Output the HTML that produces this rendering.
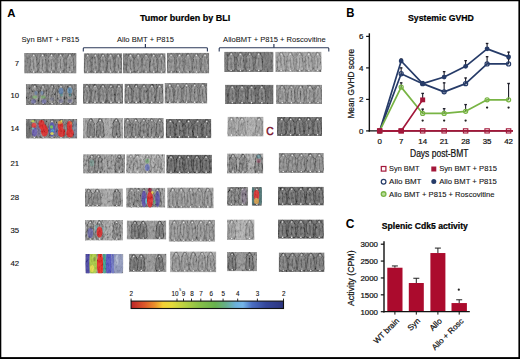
<!DOCTYPE html><html><head><meta charset="utf-8"><style>html,body{margin:0;padding:0;background:#fff;width:520px;height:359px;overflow:hidden}svg{display:block}text{font-family:"Liberation Sans",sans-serif}</style></head><body>
<svg width="520" height="359" viewBox="0 0 520 359">
<defs><path id="m" d="M0.00,0.03 L0.18,0.07 L0.26,0.17 L0.44,0.27 L0.38,0.36 L0.43,0.50 L0.45,0.66 L0.50,0.84 L0.36,0.94 L0.12,0.93 L0.00,0.97 L-0.12,0.93 L-0.36,0.94 L-0.50,0.84 L-0.45,0.66 L-0.43,0.50 L-0.38,0.36 L-0.44,0.27 L-0.26,0.17 L-0.18,0.07 L0.00,0.03Z" stroke-width="0.7" vector-effect="non-scaling-stroke" stroke-linejoin="round"/><filter id="bl" x="-10%" y="-10%" width="120%" height="120%"><feGaussianBlur stdDeviation="0.38"/></filter><filter id="bl2" x="-20%" y="-20%" width="140%" height="140%"><feGaussianBlur stdDeviation="0.7"/></filter><filter id="nz" x="0" y="0" width="100%" height="100%" filterUnits="objectBoundingBox"><feTurbulence type="fractalNoise" baseFrequency="0.55 0.3" numOctaves="3" seed="4"/><feColorMatrix type="matrix" values="1.6 0 0 0 -0.3  1.6 0 0 0 -0.3  1.6 0 0 0 -0.3  0 0 0 0 1"/></filter></defs>
<rect x="0" y="0" width="520" height="359" fill="#fff"/>
<clipPath id="c1"><rect x="24.2" y="52.9" width="52.30" height="20.50"/></clipPath>
<g clip-path="url(#c1)">
<rect x="24.2" y="52.9" width="52.30" height="20.50" fill="rgb(116,116,116)"/>
<g filter="url(#bl)">
<use href="#m" transform="translate(33.70,52.90) scale(8.00,20.50)" fill="rgb(142,142,142)" stroke="rgb(75,75,75)"/><path d="M33.70,59.05V69.30" stroke="rgb(75,75,75)" stroke-opacity="0.6" stroke-width="0.9"/>
<circle cx="33.70" cy="55.50" r="0.75" fill="#f0f0f0"/><circle cx="33.70" cy="72.00" r="0.8" fill="#f4f4f4"/>
<use href="#m" transform="translate(42.60,52.90) scale(8.00,20.50)" fill="rgb(142,142,142)" stroke="rgb(75,75,75)"/><path d="M42.60,59.05V69.30" stroke="rgb(75,75,75)" stroke-opacity="0.6" stroke-width="0.9"/>
<circle cx="42.60" cy="55.50" r="0.75" fill="#f0f0f0"/><circle cx="42.60" cy="72.00" r="0.8" fill="#f4f4f4"/>
<use href="#m" transform="translate(51.50,52.90) scale(8.00,20.50)" fill="rgb(142,142,142)" stroke="rgb(75,75,75)"/><path d="M51.50,59.05V69.30" stroke="rgb(75,75,75)" stroke-opacity="0.6" stroke-width="0.9"/>
<circle cx="51.50" cy="55.50" r="0.75" fill="#f0f0f0"/><circle cx="51.50" cy="72.00" r="0.8" fill="#f4f4f4"/>
<use href="#m" transform="translate(60.50,52.90) scale(8.00,20.50)" fill="rgb(142,142,142)" stroke="rgb(75,75,75)"/><path d="M60.50,59.05V69.30" stroke="rgb(75,75,75)" stroke-opacity="0.6" stroke-width="0.9"/>
<circle cx="60.50" cy="55.50" r="0.75" fill="#f0f0f0"/><circle cx="60.50" cy="72.00" r="0.8" fill="#f4f4f4"/>
<use href="#m" transform="translate(70.00,52.90) scale(8.00,20.50)" fill="rgb(142,142,142)" stroke="rgb(75,75,75)"/><path d="M70.00,59.05V69.30" stroke="rgb(75,75,75)" stroke-opacity="0.6" stroke-width="0.9"/>
<circle cx="70.00" cy="55.50" r="0.75" fill="#f0f0f0"/><circle cx="70.00" cy="72.00" r="0.8" fill="#f4f4f4"/>
</g>
<rect x="24.2" y="52.9" width="52.30" height="20.50" filter="url(#nz)" opacity="0.26"/>
</g>
<clipPath id="c2"><rect x="83.8" y="53.2" width="38.30" height="20.20"/></clipPath>
<g clip-path="url(#c2)">
<rect x="83.8" y="53.2" width="38.30" height="20.20" fill="rgb(110,110,110)"/>
<g filter="url(#bl)">
<use href="#m" transform="translate(87.63,53.20) scale(7.28,20.20)" fill="rgb(134,134,134)" stroke="rgb(65,65,65)"/><path d="M87.63,59.26V69.36" stroke="rgb(65,65,65)" stroke-opacity="0.6" stroke-width="0.9"/>
<circle cx="87.63" cy="55.80" r="0.75" fill="#f0f0f0"/><circle cx="87.63" cy="72.00" r="0.8" fill="#f4f4f4"/>
<use href="#m" transform="translate(95.29,53.20) scale(7.28,20.20)" fill="rgb(134,134,134)" stroke="rgb(65,65,65)"/><path d="M95.29,59.26V69.36" stroke="rgb(65,65,65)" stroke-opacity="0.6" stroke-width="0.9"/>
<circle cx="95.29" cy="55.80" r="0.75" fill="#f0f0f0"/><circle cx="95.29" cy="72.00" r="0.8" fill="#f4f4f4"/>
<use href="#m" transform="translate(102.95,53.20) scale(7.28,20.20)" fill="rgb(134,134,134)" stroke="rgb(65,65,65)"/><path d="M102.95,59.26V69.36" stroke="rgb(65,65,65)" stroke-opacity="0.6" stroke-width="0.9"/>
<circle cx="102.95" cy="55.80" r="0.75" fill="#f0f0f0"/><circle cx="102.95" cy="72.00" r="0.8" fill="#f4f4f4"/>
<use href="#m" transform="translate(110.61,53.20) scale(7.28,20.20)" fill="rgb(134,134,134)" stroke="rgb(65,65,65)"/><path d="M110.61,59.26V69.36" stroke="rgb(65,65,65)" stroke-opacity="0.6" stroke-width="0.9"/>
<circle cx="110.61" cy="55.80" r="0.75" fill="#f0f0f0"/><circle cx="110.61" cy="72.00" r="0.8" fill="#f4f4f4"/>
<use href="#m" transform="translate(118.27,53.20) scale(7.28,20.20)" fill="rgb(134,134,134)" stroke="rgb(65,65,65)"/><path d="M118.27,59.26V69.36" stroke="rgb(65,65,65)" stroke-opacity="0.6" stroke-width="0.9"/>
<circle cx="118.27" cy="55.80" r="0.75" fill="#f0f0f0"/><circle cx="118.27" cy="72.00" r="0.8" fill="#f4f4f4"/>
</g>
<rect x="83.8" y="53.2" width="38.30" height="20.20" filter="url(#nz)" opacity="0.26"/>
</g>
<clipPath id="c3"><rect x="122.8" y="53.2" width="42.80" height="20.20"/></clipPath>
<g clip-path="url(#c3)">
<rect x="122.8" y="53.2" width="42.80" height="20.20" fill="rgb(110,110,110)"/>
<g filter="url(#bl)">
<use href="#m" transform="translate(130.40,53.20) scale(8.00,20.20)" fill="rgb(134,134,134)" stroke="rgb(65,65,65)"/><path d="M130.40,59.26V69.36" stroke="rgb(65,65,65)" stroke-opacity="0.6" stroke-width="0.9"/>
<circle cx="130.40" cy="55.80" r="0.75" fill="#f0f0f0"/><circle cx="130.40" cy="72.00" r="0.8" fill="#f4f4f4"/>
<use href="#m" transform="translate(138.20,53.20) scale(8.00,20.20)" fill="rgb(134,134,134)" stroke="rgb(65,65,65)"/><path d="M138.20,59.26V69.36" stroke="rgb(65,65,65)" stroke-opacity="0.6" stroke-width="0.9"/>
<circle cx="138.20" cy="55.80" r="0.75" fill="#f0f0f0"/><circle cx="138.20" cy="72.00" r="0.8" fill="#f4f4f4"/>
<use href="#m" transform="translate(146.00,53.20) scale(8.00,20.20)" fill="rgb(134,134,134)" stroke="rgb(65,65,65)"/><path d="M146.00,59.26V69.36" stroke="rgb(65,65,65)" stroke-opacity="0.6" stroke-width="0.9"/>
<circle cx="146.00" cy="55.80" r="0.75" fill="#f0f0f0"/><circle cx="146.00" cy="72.00" r="0.8" fill="#f4f4f4"/>
<use href="#m" transform="translate(153.70,53.20) scale(8.00,20.20)" fill="rgb(134,134,134)" stroke="rgb(65,65,65)"/><path d="M153.70,59.26V69.36" stroke="rgb(65,65,65)" stroke-opacity="0.6" stroke-width="0.9"/>
<circle cx="153.70" cy="55.80" r="0.75" fill="#f0f0f0"/><circle cx="153.70" cy="72.00" r="0.8" fill="#f4f4f4"/>
<use href="#m" transform="translate(161.50,53.20) scale(8.00,20.20)" fill="rgb(134,134,134)" stroke="rgb(65,65,65)"/><path d="M161.50,59.26V69.36" stroke="rgb(65,65,65)" stroke-opacity="0.6" stroke-width="0.9"/>
<circle cx="161.50" cy="55.80" r="0.75" fill="#f0f0f0"/><circle cx="161.50" cy="72.00" r="0.8" fill="#f4f4f4"/>
</g>
<rect x="122.8" y="53.2" width="42.80" height="20.20" filter="url(#nz)" opacity="0.26"/>
</g>
<clipPath id="c4"><rect x="166.9" y="52.8" width="42.30" height="20.60"/></clipPath>
<g clip-path="url(#c4)">
<rect x="166.9" y="52.8" width="42.30" height="20.60" fill="rgb(116,116,116)"/>
<g filter="url(#bl)">
<use href="#m" transform="translate(171.13,52.80) scale(8.04,20.60)" fill="rgb(136,136,136)" stroke="rgb(70,70,70)"/><path d="M171.13,58.98V69.28" stroke="rgb(70,70,70)" stroke-opacity="0.6" stroke-width="0.9"/>
<circle cx="171.13" cy="55.40" r="0.75" fill="#f0f0f0"/><circle cx="171.13" cy="72.00" r="0.8" fill="#f4f4f4"/>
<use href="#m" transform="translate(179.59,52.80) scale(8.04,20.60)" fill="rgb(136,136,136)" stroke="rgb(70,70,70)"/><path d="M179.59,58.98V69.28" stroke="rgb(70,70,70)" stroke-opacity="0.6" stroke-width="0.9"/>
<circle cx="179.59" cy="55.40" r="0.75" fill="#f0f0f0"/><circle cx="179.59" cy="72.00" r="0.8" fill="#f4f4f4"/>
<use href="#m" transform="translate(188.05,52.80) scale(8.04,20.60)" fill="rgb(136,136,136)" stroke="rgb(70,70,70)"/><path d="M188.05,58.98V69.28" stroke="rgb(70,70,70)" stroke-opacity="0.6" stroke-width="0.9"/>
<circle cx="188.05" cy="55.40" r="0.75" fill="#f0f0f0"/><circle cx="188.05" cy="72.00" r="0.8" fill="#f4f4f4"/>
<use href="#m" transform="translate(196.51,52.80) scale(8.04,20.60)" fill="rgb(136,136,136)" stroke="rgb(70,70,70)"/><path d="M196.51,58.98V69.28" stroke="rgb(70,70,70)" stroke-opacity="0.6" stroke-width="0.9"/>
<circle cx="196.51" cy="55.40" r="0.75" fill="#f0f0f0"/><circle cx="196.51" cy="72.00" r="0.8" fill="#f4f4f4"/>
<use href="#m" transform="translate(204.97,52.80) scale(8.04,20.60)" fill="rgb(136,136,136)" stroke="rgb(70,70,70)"/><path d="M204.97,58.98V69.28" stroke="rgb(70,70,70)" stroke-opacity="0.6" stroke-width="0.9"/>
<circle cx="204.97" cy="55.40" r="0.75" fill="#f0f0f0"/><circle cx="204.97" cy="72.00" r="0.8" fill="#f4f4f4"/>
</g>
<rect x="166.9" y="52.8" width="42.30" height="20.60" filter="url(#nz)" opacity="0.26"/>
</g>
<clipPath id="c5"><rect x="224.2" y="51.7" width="49.30" height="20.30"/></clipPath>
<g clip-path="url(#c5)">
<rect x="224.2" y="51.7" width="49.30" height="20.30" fill="rgb(100,100,100)"/>
<g filter="url(#bl)">
<use href="#m" transform="translate(231.20,51.70) scale(8.00,20.30)" fill="rgb(129,129,129)" stroke="rgb(50,50,50)"/><path d="M231.20,57.79V67.94" stroke="rgb(50,50,50)" stroke-opacity="0.6" stroke-width="0.9"/>
<circle cx="231.20" cy="54.30" r="0.75" fill="#f0f0f0"/><circle cx="231.20" cy="70.60" r="0.8" fill="#f4f4f4"/>
<use href="#m" transform="translate(240.40,51.70) scale(8.00,20.30)" fill="rgb(129,129,129)" stroke="rgb(50,50,50)"/><path d="M240.40,57.79V67.94" stroke="rgb(50,50,50)" stroke-opacity="0.6" stroke-width="0.9"/>
<circle cx="240.40" cy="54.30" r="0.75" fill="#f0f0f0"/><circle cx="240.40" cy="70.60" r="0.8" fill="#f4f4f4"/>
<use href="#m" transform="translate(249.60,51.70) scale(8.00,20.30)" fill="rgb(129,129,129)" stroke="rgb(50,50,50)"/><path d="M249.60,57.79V67.94" stroke="rgb(50,50,50)" stroke-opacity="0.6" stroke-width="0.9"/>
<circle cx="249.60" cy="54.30" r="0.75" fill="#f0f0f0"/><circle cx="249.60" cy="70.60" r="0.8" fill="#f4f4f4"/>
<use href="#m" transform="translate(258.80,51.70) scale(8.00,20.30)" fill="rgb(129,129,129)" stroke="rgb(50,50,50)"/><path d="M258.80,57.79V67.94" stroke="rgb(50,50,50)" stroke-opacity="0.6" stroke-width="0.9"/>
<circle cx="258.80" cy="54.30" r="0.75" fill="#f0f0f0"/><circle cx="258.80" cy="70.60" r="0.8" fill="#f4f4f4"/>
</g>
<rect x="224.2" y="51.7" width="49.30" height="20.30" filter="url(#nz)" opacity="0.26"/>
</g>
<clipPath id="c6"><rect x="275.3" y="51.7" width="46.20" height="20.30"/></clipPath>
<g clip-path="url(#c6)">
<rect x="275.3" y="51.7" width="46.20" height="20.30" fill="rgb(150,150,150)"/>
<g filter="url(#bl)">
<use href="#m" transform="translate(281.20,51.70) scale(8.00,20.30)" fill="rgb(159,159,159)" stroke="rgb(90,90,90)"/><path d="M281.20,57.79V67.94" stroke="rgb(90,90,90)" stroke-opacity="0.6" stroke-width="0.9"/>
<circle cx="281.20" cy="54.30" r="0.75" fill="#f0f0f0"/><circle cx="281.20" cy="70.60" r="0.8" fill="#f4f4f4"/>
<use href="#m" transform="translate(290.40,51.70) scale(8.00,20.30)" fill="rgb(159,159,159)" stroke="rgb(90,90,90)"/><path d="M290.40,57.79V67.94" stroke="rgb(90,90,90)" stroke-opacity="0.6" stroke-width="0.9"/>
<circle cx="290.40" cy="54.30" r="0.75" fill="#f0f0f0"/><circle cx="290.40" cy="70.60" r="0.8" fill="#f4f4f4"/>
<use href="#m" transform="translate(299.60,51.70) scale(8.00,20.30)" fill="rgb(159,159,159)" stroke="rgb(90,90,90)"/><path d="M299.60,57.79V67.94" stroke="rgb(90,90,90)" stroke-opacity="0.6" stroke-width="0.9"/>
<circle cx="299.60" cy="54.30" r="0.75" fill="#f0f0f0"/><circle cx="299.60" cy="70.60" r="0.8" fill="#f4f4f4"/>
<use href="#m" transform="translate(308.80,51.70) scale(8.00,20.30)" fill="rgb(159,159,159)" stroke="rgb(90,90,90)"/><path d="M308.80,57.79V67.94" stroke="rgb(90,90,90)" stroke-opacity="0.6" stroke-width="0.9"/>
<circle cx="308.80" cy="54.30" r="0.75" fill="#f0f0f0"/><circle cx="308.80" cy="70.60" r="0.8" fill="#f4f4f4"/>
<use href="#m" transform="translate(317.60,51.70) scale(8.00,20.30)" fill="rgb(159,159,159)" stroke="rgb(90,90,90)"/><path d="M317.60,57.79V67.94" stroke="rgb(90,90,90)" stroke-opacity="0.6" stroke-width="0.9"/>
<circle cx="317.60" cy="54.30" r="0.75" fill="#f0f0f0"/><circle cx="317.60" cy="70.60" r="0.8" fill="#f4f4f4"/>
</g>
<rect x="275.3" y="51.7" width="46.20" height="20.30" filter="url(#nz)" opacity="0.26"/>
</g>
<clipPath id="c7"><rect x="25.9" y="84.1" width="50.90" height="20.90"/></clipPath>
<g clip-path="url(#c7)">
<rect x="25.9" y="84.1" width="50.90" height="20.90" fill="rgb(95,95,95)"/>
<g filter="url(#bl)">
<use href="#m" transform="translate(34.80,84.10) scale(8.00,20.90)" fill="rgb(114,114,114)" stroke="rgb(50,50,50)"/><path d="M34.80,90.37V100.82" stroke="rgb(50,50,50)" stroke-opacity="0.6" stroke-width="0.9"/>
<circle cx="34.80" cy="86.70" r="0.75" fill="#f0f0f0"/><circle cx="34.80" cy="103.60" r="0.8" fill="#f4f4f4"/>
<use href="#m" transform="translate(43.20,84.10) scale(8.00,20.90)" fill="rgb(114,114,114)" stroke="rgb(50,50,50)"/><path d="M43.20,90.37V100.82" stroke="rgb(50,50,50)" stroke-opacity="0.6" stroke-width="0.9"/>
<circle cx="43.20" cy="86.70" r="0.75" fill="#f0f0f0"/><circle cx="43.20" cy="103.60" r="0.8" fill="#f4f4f4"/>
<use href="#m" transform="translate(52.10,84.10) scale(8.00,20.90)" fill="rgb(114,114,114)" stroke="rgb(50,50,50)"/><path d="M52.10,90.37V100.82" stroke="rgb(50,50,50)" stroke-opacity="0.6" stroke-width="0.9"/>
<circle cx="52.10" cy="86.70" r="0.75" fill="#f0f0f0"/><circle cx="52.10" cy="103.60" r="0.8" fill="#f4f4f4"/>
<use href="#m" transform="translate(61.00,84.10) scale(8.00,20.90)" fill="rgb(114,114,114)" stroke="rgb(50,50,50)"/><path d="M61.00,90.37V100.82" stroke="rgb(50,50,50)" stroke-opacity="0.6" stroke-width="0.9"/>
<circle cx="61.00" cy="86.70" r="0.75" fill="#f0f0f0"/><circle cx="61.00" cy="103.60" r="0.8" fill="#f4f4f4"/>
<use href="#m" transform="translate(70.00,84.10) scale(8.00,20.90)" fill="rgb(114,114,114)" stroke="rgb(50,50,50)"/><path d="M70.00,90.37V100.82" stroke="rgb(50,50,50)" stroke-opacity="0.6" stroke-width="0.9"/>
<circle cx="70.00" cy="86.70" r="0.75" fill="#f0f0f0"/><circle cx="70.00" cy="103.60" r="0.8" fill="#f4f4f4"/>
</g>
<rect x="25.9" y="84.1" width="50.90" height="20.90" filter="url(#nz)" opacity="0.26"/>
<g filter="url(#bl2)">
<ellipse cx="34.8" cy="97" rx="2.6" ry="1.6" fill="#70b060" opacity="0.7"/>
<ellipse cx="43.2" cy="97" rx="2.6" ry="1.6" fill="#70b060" opacity="0.7"/>
<ellipse cx="33.5" cy="101.5" rx="2.5" ry="2.2" fill="#5a5ab0" opacity="0.6"/>
<ellipse cx="44" cy="101.5" rx="2.5" ry="2.2" fill="#5a5ab0" opacity="0.6"/>
<ellipse cx="36" cy="93" rx="1.6" ry="2" fill="#4a78b8" opacity="0.5"/>
<ellipse cx="42" cy="93" rx="1.6" ry="2" fill="#4a78b8" opacity="0.5"/>
<ellipse cx="61" cy="91" rx="2.4" ry="3.2" fill="#3a70b8" opacity="0.65"/>
<ellipse cx="69.8" cy="90.5" rx="2.4" ry="3.2" fill="#3a80b8" opacity="0.65"/>
<ellipse cx="61.5" cy="95" rx="1.5" ry="1.5" fill="#50a0a0" opacity="0.6"/>
<ellipse cx="70" cy="95" rx="1.5" ry="1.5" fill="#50a0a0" opacity="0.6"/>
<ellipse cx="61" cy="101" rx="2.5" ry="2" fill="#5a5a9a" opacity="0.45"/>
<ellipse cx="70" cy="101" rx="2.5" ry="2" fill="#5a5a9a" opacity="0.45"/>
<ellipse cx="52" cy="99" rx="2" ry="2" fill="#6a6aa0" opacity="0.3"/>
</g>
<rect x="25.9" y="84.1" width="50.90" height="20.90" filter="url(#nz)" opacity="0.16"/>
</g>
<clipPath id="c8"><rect x="83" y="83.8" width="40.00" height="20.00"/></clipPath>
<g clip-path="url(#c8)">
<rect x="83" y="83.8" width="40.00" height="20.00" fill="rgb(108,108,108)"/>
<g filter="url(#bl)">
<use href="#m" transform="translate(87.00,83.80) scale(7.60,20.00)" fill="rgb(129,129,129)" stroke="rgb(55,55,55)"/><path d="M87.00,89.80V99.80" stroke="rgb(55,55,55)" stroke-opacity="0.6" stroke-width="0.9"/>
<circle cx="87.00" cy="86.40" r="0.75" fill="#f0f0f0"/><circle cx="87.00" cy="102.40" r="0.8" fill="#f4f4f4"/>
<use href="#m" transform="translate(95.00,83.80) scale(7.60,20.00)" fill="rgb(129,129,129)" stroke="rgb(55,55,55)"/><path d="M95.00,89.80V99.80" stroke="rgb(55,55,55)" stroke-opacity="0.6" stroke-width="0.9"/>
<circle cx="95.00" cy="86.40" r="0.75" fill="#f0f0f0"/><circle cx="95.00" cy="102.40" r="0.8" fill="#f4f4f4"/>
<use href="#m" transform="translate(103.00,83.80) scale(7.60,20.00)" fill="rgb(129,129,129)" stroke="rgb(55,55,55)"/><path d="M103.00,89.80V99.80" stroke="rgb(55,55,55)" stroke-opacity="0.6" stroke-width="0.9"/>
<circle cx="103.00" cy="86.40" r="0.75" fill="#f0f0f0"/><circle cx="103.00" cy="102.40" r="0.8" fill="#f4f4f4"/>
<use href="#m" transform="translate(111.00,83.80) scale(7.60,20.00)" fill="rgb(129,129,129)" stroke="rgb(55,55,55)"/><path d="M111.00,89.80V99.80" stroke="rgb(55,55,55)" stroke-opacity="0.6" stroke-width="0.9"/>
<circle cx="111.00" cy="86.40" r="0.75" fill="#f0f0f0"/><circle cx="111.00" cy="102.40" r="0.8" fill="#f4f4f4"/>
<use href="#m" transform="translate(119.00,83.80) scale(7.60,20.00)" fill="rgb(129,129,129)" stroke="rgb(55,55,55)"/><path d="M119.00,89.80V99.80" stroke="rgb(55,55,55)" stroke-opacity="0.6" stroke-width="0.9"/>
<circle cx="119.00" cy="86.40" r="0.75" fill="#f0f0f0"/><circle cx="119.00" cy="102.40" r="0.8" fill="#f4f4f4"/>
</g>
<rect x="83" y="83.8" width="40.00" height="20.00" filter="url(#nz)" opacity="0.26"/>
</g>
<clipPath id="c9"><rect x="124.5" y="83.8" width="39.00" height="20.00"/></clipPath>
<g clip-path="url(#c9)">
<rect x="124.5" y="83.8" width="39.00" height="20.00" fill="rgb(108,108,108)"/>
<g filter="url(#bl)">
<use href="#m" transform="translate(128.40,83.80) scale(7.41,20.00)" fill="rgb(129,129,129)" stroke="rgb(55,55,55)"/><path d="M128.40,89.80V99.80" stroke="rgb(55,55,55)" stroke-opacity="0.6" stroke-width="0.9"/>
<circle cx="128.40" cy="86.40" r="0.75" fill="#f0f0f0"/><circle cx="128.40" cy="102.40" r="0.8" fill="#f4f4f4"/>
<use href="#m" transform="translate(136.20,83.80) scale(7.41,20.00)" fill="rgb(129,129,129)" stroke="rgb(55,55,55)"/><path d="M136.20,89.80V99.80" stroke="rgb(55,55,55)" stroke-opacity="0.6" stroke-width="0.9"/>
<circle cx="136.20" cy="86.40" r="0.75" fill="#f0f0f0"/><circle cx="136.20" cy="102.40" r="0.8" fill="#f4f4f4"/>
<use href="#m" transform="translate(144.00,83.80) scale(7.41,20.00)" fill="rgb(129,129,129)" stroke="rgb(55,55,55)"/><path d="M144.00,89.80V99.80" stroke="rgb(55,55,55)" stroke-opacity="0.6" stroke-width="0.9"/>
<circle cx="144.00" cy="86.40" r="0.75" fill="#f0f0f0"/><circle cx="144.00" cy="102.40" r="0.8" fill="#f4f4f4"/>
<use href="#m" transform="translate(151.80,83.80) scale(7.41,20.00)" fill="rgb(129,129,129)" stroke="rgb(55,55,55)"/><path d="M151.80,89.80V99.80" stroke="rgb(55,55,55)" stroke-opacity="0.6" stroke-width="0.9"/>
<circle cx="151.80" cy="86.40" r="0.75" fill="#f0f0f0"/><circle cx="151.80" cy="102.40" r="0.8" fill="#f4f4f4"/>
<use href="#m" transform="translate(159.60,83.80) scale(7.41,20.00)" fill="rgb(129,129,129)" stroke="rgb(55,55,55)"/><path d="M159.60,89.80V99.80" stroke="rgb(55,55,55)" stroke-opacity="0.6" stroke-width="0.9"/>
<circle cx="159.60" cy="86.40" r="0.75" fill="#f0f0f0"/><circle cx="159.60" cy="102.40" r="0.8" fill="#f4f4f4"/>
</g>
<rect x="124.5" y="83.8" width="39.00" height="20.00" filter="url(#nz)" opacity="0.26"/>
</g>
<clipPath id="c10"><rect x="164.6" y="82.9" width="42.70" height="20.70"/></clipPath>
<g clip-path="url(#c10)">
<rect x="164.6" y="82.9" width="42.70" height="20.70" fill="rgb(118,118,118)"/>
<g filter="url(#bl)">
<use href="#m" transform="translate(169.80,82.90) scale(8.00,20.70)" fill="rgb(134,134,134)" stroke="rgb(60,60,60)"/><path d="M169.80,89.11V99.46" stroke="rgb(60,60,60)" stroke-opacity="0.6" stroke-width="0.9"/>
<circle cx="169.80" cy="85.50" r="0.75" fill="#f0f0f0"/><circle cx="169.80" cy="102.20" r="0.8" fill="#f4f4f4"/>
<use href="#m" transform="translate(177.90,82.90) scale(8.00,20.70)" fill="rgb(134,134,134)" stroke="rgb(60,60,60)"/><path d="M177.90,89.11V99.46" stroke="rgb(60,60,60)" stroke-opacity="0.6" stroke-width="0.9"/>
<circle cx="177.90" cy="85.50" r="0.75" fill="#f0f0f0"/><circle cx="177.90" cy="102.20" r="0.8" fill="#f4f4f4"/>
<use href="#m" transform="translate(186.50,82.90) scale(8.00,20.70)" fill="rgb(134,134,134)" stroke="rgb(60,60,60)"/><path d="M186.50,89.11V99.46" stroke="rgb(60,60,60)" stroke-opacity="0.6" stroke-width="0.9"/>
<circle cx="186.50" cy="85.50" r="0.75" fill="#f0f0f0"/><circle cx="186.50" cy="102.20" r="0.8" fill="#f4f4f4"/>
<use href="#m" transform="translate(194.60,82.90) scale(8.00,20.70)" fill="rgb(134,134,134)" stroke="rgb(60,60,60)"/><path d="M194.60,89.11V99.46" stroke="rgb(60,60,60)" stroke-opacity="0.6" stroke-width="0.9"/>
<circle cx="194.60" cy="85.50" r="0.75" fill="#f0f0f0"/><circle cx="194.60" cy="102.20" r="0.8" fill="#f4f4f4"/>
<use href="#m" transform="translate(202.70,82.90) scale(8.00,20.70)" fill="rgb(134,134,134)" stroke="rgb(60,60,60)"/><path d="M202.70,89.11V99.46" stroke="rgb(60,60,60)" stroke-opacity="0.6" stroke-width="0.9"/>
<circle cx="202.70" cy="85.50" r="0.75" fill="#f0f0f0"/><circle cx="202.70" cy="102.20" r="0.8" fill="#f4f4f4"/>
</g>
<rect x="164.6" y="82.9" width="42.70" height="20.70" filter="url(#nz)" opacity="0.26"/>
</g>
<clipPath id="c11"><rect x="225.1" y="84.7" width="48.40" height="19.40"/></clipPath>
<g clip-path="url(#c11)">
<rect x="225.1" y="84.7" width="48.40" height="19.40" fill="rgb(85,85,85)"/>
<g filter="url(#bl)">
<use href="#m" transform="translate(232.20,84.70) scale(8.00,19.40)" fill="rgb(114,114,114)" stroke="rgb(40,40,40)"/><path d="M232.20,90.52V100.22" stroke="rgb(40,40,40)" stroke-opacity="0.6" stroke-width="0.9"/>
<circle cx="232.20" cy="87.30" r="0.75" fill="#f0f0f0"/><circle cx="232.20" cy="102.70" r="0.8" fill="#f4f4f4"/>
<use href="#m" transform="translate(242.00,84.70) scale(8.00,19.40)" fill="rgb(114,114,114)" stroke="rgb(40,40,40)"/><path d="M242.00,90.52V100.22" stroke="rgb(40,40,40)" stroke-opacity="0.6" stroke-width="0.9"/>
<circle cx="242.00" cy="87.30" r="0.75" fill="#f0f0f0"/><circle cx="242.00" cy="102.70" r="0.8" fill="#f4f4f4"/>
<use href="#m" transform="translate(251.60,84.70) scale(8.00,19.40)" fill="rgb(114,114,114)" stroke="rgb(40,40,40)"/><path d="M251.60,90.52V100.22" stroke="rgb(40,40,40)" stroke-opacity="0.6" stroke-width="0.9"/>
<circle cx="251.60" cy="87.30" r="0.75" fill="#f0f0f0"/><circle cx="251.60" cy="102.70" r="0.8" fill="#f4f4f4"/>
<use href="#m" transform="translate(261.80,84.70) scale(8.00,19.40)" fill="rgb(114,114,114)" stroke="rgb(40,40,40)"/><path d="M261.80,90.52V100.22" stroke="rgb(40,40,40)" stroke-opacity="0.6" stroke-width="0.9"/>
<circle cx="261.80" cy="87.30" r="0.75" fill="#f0f0f0"/><circle cx="261.80" cy="102.70" r="0.8" fill="#f4f4f4"/>
</g>
<rect x="225.1" y="84.7" width="48.40" height="19.40" filter="url(#nz)" opacity="0.26"/>
</g>
<clipPath id="c12"><rect x="276.1" y="84.7" width="45.90" height="19.40"/></clipPath>
<g clip-path="url(#c12)">
<rect x="276.1" y="84.7" width="45.90" height="19.40" fill="rgb(130,130,130)"/>
<g filter="url(#bl)">
<use href="#m" transform="translate(282.20,84.70) scale(8.00,19.40)" fill="rgb(144,144,144)" stroke="rgb(70,70,70)"/><path d="M282.20,90.52V100.22" stroke="rgb(70,70,70)" stroke-opacity="0.6" stroke-width="0.9"/>
<circle cx="282.20" cy="87.30" r="0.75" fill="#f0f0f0"/><circle cx="282.20" cy="102.70" r="0.8" fill="#f4f4f4"/>
<use href="#m" transform="translate(291.40,84.70) scale(8.00,19.40)" fill="rgb(144,144,144)" stroke="rgb(70,70,70)"/><path d="M291.40,90.52V100.22" stroke="rgb(70,70,70)" stroke-opacity="0.6" stroke-width="0.9"/>
<circle cx="291.40" cy="87.30" r="0.75" fill="#f0f0f0"/><circle cx="291.40" cy="102.70" r="0.8" fill="#f4f4f4"/>
<use href="#m" transform="translate(300.60,84.70) scale(8.00,19.40)" fill="rgb(144,144,144)" stroke="rgb(70,70,70)"/><path d="M300.60,90.52V100.22" stroke="rgb(70,70,70)" stroke-opacity="0.6" stroke-width="0.9"/>
<circle cx="300.60" cy="87.30" r="0.75" fill="#f0f0f0"/><circle cx="300.60" cy="102.70" r="0.8" fill="#f4f4f4"/>
<use href="#m" transform="translate(309.80,84.70) scale(8.00,19.40)" fill="rgb(144,144,144)" stroke="rgb(70,70,70)"/><path d="M309.80,90.52V100.22" stroke="rgb(70,70,70)" stroke-opacity="0.6" stroke-width="0.9"/>
<circle cx="309.80" cy="87.30" r="0.75" fill="#f0f0f0"/><circle cx="309.80" cy="102.70" r="0.8" fill="#f4f4f4"/>
<use href="#m" transform="translate(318.00,84.70) scale(8.00,19.40)" fill="rgb(144,144,144)" stroke="rgb(70,70,70)"/><path d="M318.00,90.52V100.22" stroke="rgb(70,70,70)" stroke-opacity="0.6" stroke-width="0.9"/>
<circle cx="318.00" cy="87.30" r="0.75" fill="#f0f0f0"/><circle cx="318.00" cy="102.70" r="0.8" fill="#f4f4f4"/>
</g>
<rect x="276.1" y="84.7" width="45.90" height="19.40" filter="url(#nz)" opacity="0.26"/>
</g>
<clipPath id="c13"><rect x="25.9" y="118.9" width="51.30" height="19.70"/></clipPath>
<g clip-path="url(#c13)">
<rect x="25.9" y="118.9" width="51.30" height="19.70" fill="rgb(100,100,100)"/>
<g filter="url(#bl)">
<use href="#m" transform="translate(34.50,118.90) scale(8.00,19.70)" fill="rgb(104,104,104)" stroke="rgb(50,50,50)"/><path d="M34.50,124.81V134.66" stroke="rgb(50,50,50)" stroke-opacity="0.6" stroke-width="0.9"/>
<circle cx="34.50" cy="121.50" r="0.75" fill="#f0f0f0"/><circle cx="34.50" cy="137.20" r="0.8" fill="#f4f4f4"/>
<use href="#m" transform="translate(43.00,118.90) scale(8.00,19.70)" fill="rgb(104,104,104)" stroke="rgb(50,50,50)"/><path d="M43.00,124.81V134.66" stroke="rgb(50,50,50)" stroke-opacity="0.6" stroke-width="0.9"/>
<circle cx="43.00" cy="121.50" r="0.75" fill="#f0f0f0"/><circle cx="43.00" cy="137.20" r="0.8" fill="#f4f4f4"/>
<use href="#m" transform="translate(52.00,118.90) scale(8.00,19.70)" fill="rgb(104,104,104)" stroke="rgb(50,50,50)"/><path d="M52.00,124.81V134.66" stroke="rgb(50,50,50)" stroke-opacity="0.6" stroke-width="0.9"/>
<circle cx="52.00" cy="121.50" r="0.75" fill="#f0f0f0"/><circle cx="52.00" cy="137.20" r="0.8" fill="#f4f4f4"/>
<use href="#m" transform="translate(61.00,118.90) scale(8.00,19.70)" fill="rgb(104,104,104)" stroke="rgb(50,50,50)"/><path d="M61.00,124.81V134.66" stroke="rgb(50,50,50)" stroke-opacity="0.6" stroke-width="0.9"/>
<circle cx="61.00" cy="121.50" r="0.75" fill="#f0f0f0"/><circle cx="61.00" cy="137.20" r="0.8" fill="#f4f4f4"/>
<use href="#m" transform="translate(69.50,118.90) scale(8.00,19.70)" fill="rgb(104,104,104)" stroke="rgb(50,50,50)"/><path d="M69.50,124.81V134.66" stroke="rgb(50,50,50)" stroke-opacity="0.6" stroke-width="0.9"/>
<circle cx="69.50" cy="121.50" r="0.75" fill="#f0f0f0"/><circle cx="69.50" cy="137.20" r="0.8" fill="#f4f4f4"/>
</g>
<rect x="25.9" y="118.9" width="51.30" height="19.70" filter="url(#nz)" opacity="0.26"/>
<g filter="url(#bl2)">
<ellipse cx="28.4" cy="128.7" rx="2.5" ry="10" fill="#5a5a5a" opacity="0.8"/>
<ellipse cx="38.5" cy="130" rx="2" ry="7" fill="#7060b0" opacity="0.5"/>
<ellipse cx="56.5" cy="130" rx="1.5" ry="7" fill="#6a60b0" opacity="0.5"/>
<ellipse cx="75" cy="129" rx="2" ry="9" fill="#6a7aa0" opacity="0.6"/>
<ellipse cx="34" cy="125.5" rx="2.4" ry="2.8" fill="#e02828" opacity="0.92"/>
<ellipse cx="33" cy="121.2" rx="1.6" ry="1.3" fill="#b8d040" opacity="0.92"/>
<ellipse cx="34.5" cy="132" rx="2.6" ry="4.5" fill="#6050b0" opacity="0.92"/>
<ellipse cx="33" cy="128.5" rx="1" ry="1" fill="#60c0c0" opacity="0.92"/>
<ellipse cx="41.5" cy="124" rx="3" ry="4" fill="#e01818" opacity="0.92"/>
<ellipse cx="44.5" cy="131" rx="3.6" ry="5.5" fill="#e01818" opacity="0.92"/>
<ellipse cx="43" cy="127" rx="3.6" ry="3" fill="#e01818" opacity="0.92"/>
<ellipse cx="52" cy="129.5" rx="3.2" ry="7.2" fill="#4848b0" opacity="0.92"/>
<ellipse cx="51.5" cy="127" rx="1.6" ry="1.8" fill="#70d040" opacity="0.92"/>
<ellipse cx="52.5" cy="130.5" rx="1.6" ry="1.6" fill="#40a0d0" opacity="0.92"/>
<ellipse cx="52" cy="133.5" rx="1.8" ry="1.5" fill="#e0e040" opacity="0.92"/>
<ellipse cx="60.5" cy="126" rx="2.8" ry="4" fill="#e01818" opacity="0.92"/>
<ellipse cx="61.5" cy="132.5" rx="3.6" ry="4.5" fill="#e01818" opacity="0.92"/>
<ellipse cx="60" cy="122.5" rx="2.2" ry="1.8" fill="#e09030" opacity="0.92"/>
<ellipse cx="61.5" cy="121" rx="1" ry="1" fill="#e0d040" opacity="0.92"/>
<ellipse cx="69.5" cy="126" rx="2.6" ry="5" fill="#e01818" opacity="0.92"/>
<ellipse cx="70" cy="133" rx="3.8" ry="4.5" fill="#e01818" opacity="0.92"/>
<ellipse cx="71" cy="123" rx="1.2" ry="1.5" fill="#e06030" opacity="0.92"/>
</g>
<rect x="25.9" y="118.9" width="51.30" height="19.70" filter="url(#nz)" opacity="0.16"/>
</g>
<clipPath id="c14"><rect x="83" y="118" width="40.00" height="20.50"/></clipPath>
<g clip-path="url(#c14)">
<rect x="83" y="118" width="40.00" height="20.50" fill="rgb(158,158,158)"/>
<g filter="url(#bl)">
<use href="#m" transform="translate(90.90,118.00) scale(8.00,20.50)" fill="rgb(119,119,119)" stroke="rgb(35,35,35)"/><path d="M90.90,124.15V134.40" stroke="rgb(35,35,35)" stroke-opacity="0.6" stroke-width="0.9"/>
<circle cx="90.90" cy="120.60" r="0.75" fill="#f0f0f0"/><circle cx="90.90" cy="137.10" r="0.8" fill="#f4f4f4"/>
<use href="#m" transform="translate(100.20,118.00) scale(8.00,20.50)" fill="rgb(119,119,119)" stroke="rgb(35,35,35)"/><path d="M100.20,124.15V134.40" stroke="rgb(35,35,35)" stroke-opacity="0.6" stroke-width="0.9"/>
<circle cx="100.20" cy="120.60" r="0.75" fill="#f0f0f0"/><circle cx="100.20" cy="137.10" r="0.8" fill="#f4f4f4"/>
<use href="#m" transform="translate(116.30,118.00) scale(8.00,20.50)" fill="rgb(119,119,119)" stroke="rgb(35,35,35)"/><path d="M116.30,124.15V134.40" stroke="rgb(35,35,35)" stroke-opacity="0.6" stroke-width="0.9"/>
<circle cx="116.30" cy="120.60" r="0.75" fill="#f0f0f0"/><circle cx="116.30" cy="137.10" r="0.8" fill="#f4f4f4"/>
</g>
<rect x="83" y="118" width="40.00" height="20.50" filter="url(#nz)" opacity="0.26"/>
</g>
<clipPath id="c15"><rect x="123.75" y="118" width="40.00" height="20.50"/></clipPath>
<g clip-path="url(#c15)">
<rect x="123.75" y="118" width="40.00" height="20.50" fill="rgb(140,140,140)"/>
<g filter="url(#bl)">
<use href="#m" transform="translate(127.75,118.00) scale(7.60,20.50)" fill="rgb(124,124,124)" stroke="rgb(50,50,50)"/><path d="M127.75,124.15V134.40" stroke="rgb(50,50,50)" stroke-opacity="0.6" stroke-width="0.9"/>
<circle cx="127.75" cy="120.60" r="0.75" fill="#f0f0f0"/><circle cx="127.75" cy="137.10" r="0.8" fill="#f4f4f4"/>
<use href="#m" transform="translate(135.75,118.00) scale(7.60,20.50)" fill="rgb(124,124,124)" stroke="rgb(50,50,50)"/><path d="M135.75,124.15V134.40" stroke="rgb(50,50,50)" stroke-opacity="0.6" stroke-width="0.9"/>
<circle cx="135.75" cy="120.60" r="0.75" fill="#f0f0f0"/><circle cx="135.75" cy="137.10" r="0.8" fill="#f4f4f4"/>
<use href="#m" transform="translate(143.75,118.00) scale(7.60,20.50)" fill="rgb(124,124,124)" stroke="rgb(50,50,50)"/><path d="M143.75,124.15V134.40" stroke="rgb(50,50,50)" stroke-opacity="0.6" stroke-width="0.9"/>
<circle cx="143.75" cy="120.60" r="0.75" fill="#f0f0f0"/><circle cx="143.75" cy="137.10" r="0.8" fill="#f4f4f4"/>
<use href="#m" transform="translate(151.75,118.00) scale(7.60,20.50)" fill="rgb(124,124,124)" stroke="rgb(50,50,50)"/><path d="M151.75,124.15V134.40" stroke="rgb(50,50,50)" stroke-opacity="0.6" stroke-width="0.9"/>
<circle cx="151.75" cy="120.60" r="0.75" fill="#f0f0f0"/><circle cx="151.75" cy="137.10" r="0.8" fill="#f4f4f4"/>
<use href="#m" transform="translate(159.75,118.00) scale(7.60,20.50)" fill="rgb(124,124,124)" stroke="rgb(50,50,50)"/><path d="M159.75,124.15V134.40" stroke="rgb(50,50,50)" stroke-opacity="0.6" stroke-width="0.9"/>
<circle cx="159.75" cy="120.60" r="0.75" fill="#f0f0f0"/><circle cx="159.75" cy="137.10" r="0.8" fill="#f4f4f4"/>
</g>
<rect x="123.75" y="118" width="40.00" height="20.50" filter="url(#nz)" opacity="0.26"/>
</g>
<clipPath id="c16"><rect x="165.8" y="118.9" width="45.50" height="19.40"/></clipPath>
<g clip-path="url(#c16)">
<rect x="165.8" y="118.9" width="45.50" height="19.40" fill="rgb(85,85,85)"/>
<g filter="url(#bl)">
<use href="#m" transform="translate(170.35,118.90) scale(8.64,19.40)" fill="rgb(99,99,99)" stroke="rgb(25,25,25)"/><path d="M170.35,124.72V134.42" stroke="rgb(25,25,25)" stroke-opacity="0.6" stroke-width="0.9"/>
<circle cx="170.35" cy="121.50" r="0.75" fill="#f0f0f0"/><circle cx="170.35" cy="136.90" r="0.8" fill="#f4f4f4"/>
<use href="#m" transform="translate(179.45,118.90) scale(8.64,19.40)" fill="rgb(99,99,99)" stroke="rgb(25,25,25)"/><path d="M179.45,124.72V134.42" stroke="rgb(25,25,25)" stroke-opacity="0.6" stroke-width="0.9"/>
<circle cx="179.45" cy="121.50" r="0.75" fill="#f0f0f0"/><circle cx="179.45" cy="136.90" r="0.8" fill="#f4f4f4"/>
<use href="#m" transform="translate(188.55,118.90) scale(8.64,19.40)" fill="rgb(99,99,99)" stroke="rgb(25,25,25)"/><path d="M188.55,124.72V134.42" stroke="rgb(25,25,25)" stroke-opacity="0.6" stroke-width="0.9"/>
<circle cx="188.55" cy="121.50" r="0.75" fill="#f0f0f0"/><circle cx="188.55" cy="136.90" r="0.8" fill="#f4f4f4"/>
<use href="#m" transform="translate(197.65,118.90) scale(8.64,19.40)" fill="rgb(99,99,99)" stroke="rgb(25,25,25)"/><path d="M197.65,124.72V134.42" stroke="rgb(25,25,25)" stroke-opacity="0.6" stroke-width="0.9"/>
<circle cx="197.65" cy="121.50" r="0.75" fill="#f0f0f0"/><circle cx="197.65" cy="136.90" r="0.8" fill="#f4f4f4"/>
<use href="#m" transform="translate(206.75,118.90) scale(8.64,19.40)" fill="rgb(99,99,99)" stroke="rgb(25,25,25)"/><path d="M206.75,124.72V134.42" stroke="rgb(25,25,25)" stroke-opacity="0.6" stroke-width="0.9"/>
<circle cx="206.75" cy="121.50" r="0.75" fill="#f0f0f0"/><circle cx="206.75" cy="136.90" r="0.8" fill="#f4f4f4"/>
</g>
<rect x="165.8" y="118.9" width="45.50" height="19.40" filter="url(#nz)" opacity="0.26"/>
</g>
<clipPath id="c17"><rect x="227.5" y="116.8" width="36.00" height="19.70"/></clipPath>
<g clip-path="url(#c17)">
<rect x="227.5" y="116.8" width="36.00" height="19.70" fill="rgb(168,168,168)"/>
<g filter="url(#bl)">
<use href="#m" transform="translate(231.50,116.80) scale(8.00,19.70)" fill="rgb(154,154,154)" stroke="rgb(105,105,105)"/><path d="M231.50,122.71V132.56" stroke="rgb(105,105,105)" stroke-opacity="0.6" stroke-width="0.9"/>
<circle cx="231.50" cy="119.40" r="0.75" fill="#f0f0f0"/><circle cx="231.50" cy="135.10" r="0.8" fill="#f4f4f4"/>
<use href="#m" transform="translate(242.00,116.80) scale(8.00,19.70)" fill="rgb(154,154,154)" stroke="rgb(105,105,105)"/><path d="M242.00,122.71V132.56" stroke="rgb(105,105,105)" stroke-opacity="0.6" stroke-width="0.9"/>
<circle cx="242.00" cy="119.40" r="0.75" fill="#f0f0f0"/><circle cx="242.00" cy="135.10" r="0.8" fill="#f4f4f4"/>
<use href="#m" transform="translate(259.00,116.80) scale(8.00,19.70)" fill="rgb(154,154,154)" stroke="rgb(105,105,105)"/><path d="M259.00,122.71V132.56" stroke="rgb(105,105,105)" stroke-opacity="0.6" stroke-width="0.9"/>
<circle cx="259.00" cy="119.40" r="0.75" fill="#f0f0f0"/><circle cx="259.00" cy="135.10" r="0.8" fill="#f4f4f4"/>
</g>
<rect x="227.5" y="116.8" width="36.00" height="19.70" filter="url(#nz)" opacity="0.26"/>
</g>
<clipPath id="c18"><rect x="277.1" y="117" width="45.00" height="19.10"/></clipPath>
<g clip-path="url(#c18)">
<rect x="277.1" y="117" width="45.00" height="19.10" fill="rgb(90,90,90)"/>
<g filter="url(#bl)">
<use href="#m" transform="translate(281.60,117.00) scale(8.55,19.10)" fill="rgb(104,104,104)" stroke="rgb(25,25,25)"/><path d="M281.60,122.73V132.28" stroke="rgb(25,25,25)" stroke-opacity="0.6" stroke-width="0.9"/>
<circle cx="281.60" cy="119.60" r="0.75" fill="#f0f0f0"/><circle cx="281.60" cy="134.70" r="0.8" fill="#f4f4f4"/>
<use href="#m" transform="translate(290.60,117.00) scale(8.55,19.10)" fill="rgb(104,104,104)" stroke="rgb(25,25,25)"/><path d="M290.60,122.73V132.28" stroke="rgb(25,25,25)" stroke-opacity="0.6" stroke-width="0.9"/>
<circle cx="290.60" cy="119.60" r="0.75" fill="#f0f0f0"/><circle cx="290.60" cy="134.70" r="0.8" fill="#f4f4f4"/>
<use href="#m" transform="translate(299.60,117.00) scale(8.55,19.10)" fill="rgb(104,104,104)" stroke="rgb(25,25,25)"/><path d="M299.60,122.73V132.28" stroke="rgb(25,25,25)" stroke-opacity="0.6" stroke-width="0.9"/>
<circle cx="299.60" cy="119.60" r="0.75" fill="#f0f0f0"/><circle cx="299.60" cy="134.70" r="0.8" fill="#f4f4f4"/>
<use href="#m" transform="translate(308.60,117.00) scale(8.55,19.10)" fill="rgb(104,104,104)" stroke="rgb(25,25,25)"/><path d="M308.60,122.73V132.28" stroke="rgb(25,25,25)" stroke-opacity="0.6" stroke-width="0.9"/>
<circle cx="308.60" cy="119.60" r="0.75" fill="#f0f0f0"/><circle cx="308.60" cy="134.70" r="0.8" fill="#f4f4f4"/>
<use href="#m" transform="translate(317.60,117.00) scale(8.55,19.10)" fill="rgb(104,104,104)" stroke="rgb(25,25,25)"/><path d="M317.60,122.73V132.28" stroke="rgb(25,25,25)" stroke-opacity="0.6" stroke-width="0.9"/>
<circle cx="317.60" cy="119.60" r="0.75" fill="#f0f0f0"/><circle cx="317.60" cy="134.70" r="0.8" fill="#f4f4f4"/>
</g>
<rect x="277.1" y="117" width="45.00" height="19.10" filter="url(#nz)" opacity="0.26"/>
</g>
<clipPath id="c19"><rect x="83" y="154.2" width="42.00" height="19.30"/></clipPath>
<g clip-path="url(#c19)">
<rect x="83" y="154.2" width="42.00" height="19.30" fill="rgb(135,135,135)"/>
<g filter="url(#bl)">
<use href="#m" transform="translate(91.90,154.20) scale(8.00,19.30)" fill="rgb(114,114,114)" stroke="rgb(35,35,35)"/><path d="M91.90,159.99V169.64" stroke="rgb(35,35,35)" stroke-opacity="0.6" stroke-width="0.9"/>
<circle cx="91.90" cy="156.80" r="0.75" fill="#f0f0f0"/><circle cx="91.90" cy="172.10" r="0.8" fill="#f4f4f4"/>
<use href="#m" transform="translate(98.50,154.20) scale(8.00,19.30)" fill="rgb(114,114,114)" stroke="rgb(35,35,35)"/><path d="M98.50,159.99V169.64" stroke="rgb(35,35,35)" stroke-opacity="0.6" stroke-width="0.9"/>
<circle cx="98.50" cy="156.80" r="0.75" fill="#f0f0f0"/><circle cx="98.50" cy="172.10" r="0.8" fill="#f4f4f4"/>
<use href="#m" transform="translate(119.20,154.20) scale(8.00,19.30)" fill="rgb(114,114,114)" stroke="rgb(35,35,35)"/><path d="M119.20,159.99V169.64" stroke="rgb(35,35,35)" stroke-opacity="0.6" stroke-width="0.9"/>
<circle cx="119.20" cy="156.80" r="0.75" fill="#f0f0f0"/><circle cx="119.20" cy="172.10" r="0.8" fill="#f4f4f4"/>
</g>
<rect x="83" y="154.2" width="42.00" height="19.30" filter="url(#nz)" opacity="0.26"/>
<g filter="url(#bl2)">
<ellipse cx="91.9" cy="163" rx="2.3" ry="3.5" fill="#5a9a8a" opacity="0.45"/>
</g>
<rect x="83" y="154.2" width="42.00" height="19.30" filter="url(#nz)" opacity="0.16"/>
</g>
<clipPath id="c20"><rect x="126.25" y="154.2" width="38.75" height="19.30"/></clipPath>
<g clip-path="url(#c20)">
<rect x="126.25" y="154.2" width="38.75" height="19.30" fill="rgb(165,165,165)"/>
<g filter="url(#bl)">
<use href="#m" transform="translate(130.80,154.20) scale(8.00,19.30)" fill="rgb(144,144,144)" stroke="rgb(80,80,80)"/><path d="M130.80,159.99V169.64" stroke="rgb(80,80,80)" stroke-opacity="0.6" stroke-width="0.9"/>
<circle cx="130.80" cy="156.80" r="0.75" fill="#f0f0f0"/><circle cx="130.80" cy="172.10" r="0.8" fill="#f4f4f4"/>
<use href="#m" transform="translate(137.40,154.20) scale(8.00,19.30)" fill="rgb(144,144,144)" stroke="rgb(80,80,80)"/><path d="M137.40,159.99V169.64" stroke="rgb(80,80,80)" stroke-opacity="0.6" stroke-width="0.9"/>
<circle cx="137.40" cy="156.80" r="0.75" fill="#f0f0f0"/><circle cx="137.40" cy="172.10" r="0.8" fill="#f4f4f4"/>
<use href="#m" transform="translate(147.30,154.20) scale(8.00,19.30)" fill="rgb(144,144,144)" stroke="rgb(80,80,80)"/><path d="M147.30,159.99V169.64" stroke="rgb(80,80,80)" stroke-opacity="0.6" stroke-width="0.9"/>
<circle cx="147.30" cy="156.80" r="0.75" fill="#f0f0f0"/><circle cx="147.30" cy="172.10" r="0.8" fill="#f4f4f4"/>
<use href="#m" transform="translate(158.00,154.20) scale(8.00,19.30)" fill="rgb(144,144,144)" stroke="rgb(80,80,80)"/><path d="M158.00,159.99V169.64" stroke="rgb(80,80,80)" stroke-opacity="0.6" stroke-width="0.9"/>
<circle cx="158.00" cy="156.80" r="0.75" fill="#f0f0f0"/><circle cx="158.00" cy="172.10" r="0.8" fill="#f4f4f4"/>
</g>
<rect x="126.25" y="154.2" width="38.75" height="19.30" filter="url(#nz)" opacity="0.26"/>
<g filter="url(#bl2)">
<ellipse cx="147.3" cy="161" rx="2.2" ry="2.5" fill="#70b070" opacity="0.7"/>
<ellipse cx="147.3" cy="167.5" rx="2.4" ry="3.5" fill="#5060c0" opacity="0.7"/>
</g>
<rect x="126.25" y="154.2" width="38.75" height="19.30" filter="url(#nz)" opacity="0.16"/>
</g>
<clipPath id="c21"><rect x="166.3" y="154.7" width="45.60" height="18.90"/></clipPath>
<g clip-path="url(#c21)">
<rect x="166.3" y="154.7" width="45.60" height="18.90" fill="rgb(80,80,80)"/>
<g filter="url(#bl)">
<use href="#m" transform="translate(171.00,154.70) scale(8.00,18.90)" fill="rgb(94,94,94)" stroke="rgb(20,20,20)"/><path d="M171.00,160.37V169.82" stroke="rgb(20,20,20)" stroke-opacity="0.6" stroke-width="0.9"/>
<circle cx="171.00" cy="157.30" r="0.75" fill="#f0f0f0"/><circle cx="171.00" cy="172.20" r="0.8" fill="#f4f4f4"/>
<use href="#m" transform="translate(179.60,154.70) scale(8.00,18.90)" fill="rgb(94,94,94)" stroke="rgb(20,20,20)"/><path d="M179.60,160.37V169.82" stroke="rgb(20,20,20)" stroke-opacity="0.6" stroke-width="0.9"/>
<circle cx="179.60" cy="157.30" r="0.75" fill="#f0f0f0"/><circle cx="179.60" cy="172.20" r="0.8" fill="#f4f4f4"/>
<use href="#m" transform="translate(188.30,154.70) scale(8.00,18.90)" fill="rgb(94,94,94)" stroke="rgb(20,20,20)"/><path d="M188.30,160.37V169.82" stroke="rgb(20,20,20)" stroke-opacity="0.6" stroke-width="0.9"/>
<circle cx="188.30" cy="157.30" r="0.75" fill="#f0f0f0"/><circle cx="188.30" cy="172.20" r="0.8" fill="#f4f4f4"/>
<use href="#m" transform="translate(196.90,154.70) scale(8.00,18.90)" fill="rgb(94,94,94)" stroke="rgb(20,20,20)"/><path d="M196.90,160.37V169.82" stroke="rgb(20,20,20)" stroke-opacity="0.6" stroke-width="0.9"/>
<circle cx="196.90" cy="157.30" r="0.75" fill="#f0f0f0"/><circle cx="196.90" cy="172.20" r="0.8" fill="#f4f4f4"/>
<use href="#m" transform="translate(206.10,154.70) scale(8.00,18.90)" fill="rgb(94,94,94)" stroke="rgb(20,20,20)"/><path d="M206.10,160.37V169.82" stroke="rgb(20,20,20)" stroke-opacity="0.6" stroke-width="0.9"/>
<circle cx="206.10" cy="157.30" r="0.75" fill="#f0f0f0"/><circle cx="206.10" cy="172.20" r="0.8" fill="#f4f4f4"/>
</g>
<rect x="166.3" y="154.7" width="45.60" height="18.90" filter="url(#nz)" opacity="0.26"/>
</g>
<clipPath id="c22"><rect x="227" y="153.5" width="36.25" height="20.00"/></clipPath>
<g clip-path="url(#c22)">
<rect x="227" y="153.5" width="36.25" height="20.00" fill="rgb(150,150,150)"/>
<g filter="url(#bl)">
<use href="#m" transform="translate(232.90,153.50) scale(8.00,20.00)" fill="rgb(109,109,109)" stroke="rgb(25,25,25)"/><path d="M232.90,159.50V169.50" stroke="rgb(25,25,25)" stroke-opacity="0.6" stroke-width="0.9"/>
<circle cx="232.90" cy="156.10" r="0.75" fill="#f0f0f0"/><circle cx="232.90" cy="172.10" r="0.8" fill="#f4f4f4"/>
<use href="#m" transform="translate(243.00,153.50) scale(8.00,20.00)" fill="rgb(109,109,109)" stroke="rgb(25,25,25)"/><path d="M243.00,159.50V169.50" stroke="rgb(25,25,25)" stroke-opacity="0.6" stroke-width="0.9"/>
<circle cx="243.00" cy="156.10" r="0.75" fill="#f0f0f0"/><circle cx="243.00" cy="172.10" r="0.8" fill="#f4f4f4"/>
<use href="#m" transform="translate(258.70,153.50) scale(8.00,20.00)" fill="rgb(109,109,109)" stroke="rgb(25,25,25)"/><path d="M258.70,159.50V169.50" stroke="rgb(25,25,25)" stroke-opacity="0.6" stroke-width="0.9"/>
<circle cx="258.70" cy="156.10" r="0.75" fill="#f0f0f0"/><circle cx="258.70" cy="172.10" r="0.8" fill="#f4f4f4"/>
</g>
<rect x="227" y="153.5" width="36.25" height="20.00" filter="url(#nz)" opacity="0.26"/>
<g filter="url(#bl2)">
<ellipse cx="258.7" cy="161" rx="2.2" ry="2" fill="#a04060" opacity="0.55"/>
<ellipse cx="258.7" cy="156.5" rx="2.2" ry="2" fill="#4a8a9a" opacity="0.6"/>
</g>
<rect x="227" y="153.5" width="36.25" height="20.00" filter="url(#nz)" opacity="0.16"/>
</g>
<clipPath id="c23"><rect x="278.75" y="153" width="45.00" height="20.00"/></clipPath>
<g clip-path="url(#c23)">
<rect x="278.75" y="153" width="45.00" height="20.00" fill="rgb(135,135,135)"/>
<g filter="url(#bl)">
<use href="#m" transform="translate(283.25,153.00) scale(8.55,20.00)" fill="rgb(134,134,134)" stroke="rgb(60,60,60)"/><path d="M283.25,159.00V169.00" stroke="rgb(60,60,60)" stroke-opacity="0.6" stroke-width="0.9"/>
<circle cx="283.25" cy="155.60" r="0.75" fill="#f0f0f0"/><circle cx="283.25" cy="171.60" r="0.8" fill="#f4f4f4"/>
<use href="#m" transform="translate(292.25,153.00) scale(8.55,20.00)" fill="rgb(134,134,134)" stroke="rgb(60,60,60)"/><path d="M292.25,159.00V169.00" stroke="rgb(60,60,60)" stroke-opacity="0.6" stroke-width="0.9"/>
<circle cx="292.25" cy="155.60" r="0.75" fill="#f0f0f0"/><circle cx="292.25" cy="171.60" r="0.8" fill="#f4f4f4"/>
<use href="#m" transform="translate(301.25,153.00) scale(8.55,20.00)" fill="rgb(134,134,134)" stroke="rgb(60,60,60)"/><path d="M301.25,159.00V169.00" stroke="rgb(60,60,60)" stroke-opacity="0.6" stroke-width="0.9"/>
<circle cx="301.25" cy="155.60" r="0.75" fill="#f0f0f0"/><circle cx="301.25" cy="171.60" r="0.8" fill="#f4f4f4"/>
<use href="#m" transform="translate(310.25,153.00) scale(8.55,20.00)" fill="rgb(134,134,134)" stroke="rgb(60,60,60)"/><path d="M310.25,159.00V169.00" stroke="rgb(60,60,60)" stroke-opacity="0.6" stroke-width="0.9"/>
<circle cx="310.25" cy="155.60" r="0.75" fill="#f0f0f0"/><circle cx="310.25" cy="171.60" r="0.8" fill="#f4f4f4"/>
<use href="#m" transform="translate(319.25,153.00) scale(8.55,20.00)" fill="rgb(134,134,134)" stroke="rgb(60,60,60)"/><path d="M319.25,159.00V169.00" stroke="rgb(60,60,60)" stroke-opacity="0.6" stroke-width="0.9"/>
<circle cx="319.25" cy="155.60" r="0.75" fill="#f0f0f0"/><circle cx="319.25" cy="171.60" r="0.8" fill="#f4f4f4"/>
</g>
<rect x="278.75" y="153" width="45.00" height="20.00" filter="url(#nz)" opacity="0.26"/>
</g>
<clipPath id="c24"><rect x="85" y="188.5" width="38.00" height="18.25"/></clipPath>
<g clip-path="url(#c24)">
<rect x="85" y="188.5" width="38.00" height="18.25" fill="rgb(160,160,160)"/>
<g filter="url(#bl)">
<use href="#m" transform="translate(88.60,188.50) scale(8.00,18.25)" fill="rgb(124,124,124)" stroke="rgb(50,50,50)"/><path d="M88.60,193.97V203.10" stroke="rgb(50,50,50)" stroke-opacity="0.6" stroke-width="0.9"/>
<circle cx="88.60" cy="191.10" r="0.75" fill="#f0f0f0"/><circle cx="88.60" cy="205.35" r="0.8" fill="#f4f4f4"/>
<use href="#m" transform="translate(97.20,188.50) scale(8.00,18.25)" fill="rgb(124,124,124)" stroke="rgb(50,50,50)"/><path d="M97.20,193.97V203.10" stroke="rgb(50,50,50)" stroke-opacity="0.6" stroke-width="0.9"/>
<circle cx="97.20" cy="191.10" r="0.75" fill="#f0f0f0"/><circle cx="97.20" cy="205.35" r="0.8" fill="#f4f4f4"/>
<use href="#m" transform="translate(116.70,188.50) scale(8.00,18.25)" fill="rgb(124,124,124)" stroke="rgb(50,50,50)"/><path d="M116.70,193.97V203.10" stroke="rgb(50,50,50)" stroke-opacity="0.6" stroke-width="0.9"/>
<circle cx="116.70" cy="191.10" r="0.75" fill="#f0f0f0"/><circle cx="116.70" cy="205.35" r="0.8" fill="#f4f4f4"/>
</g>
<rect x="85" y="188.5" width="38.00" height="18.25" filter="url(#nz)" opacity="0.26"/>
</g>
<clipPath id="c25"><rect x="126.25" y="187.8" width="38.95" height="19.80"/></clipPath>
<g clip-path="url(#c25)">
<rect x="126.25" y="187.8" width="38.95" height="19.80" fill="rgb(135,135,135)"/>
<g filter="url(#bl)">
<use href="#m" transform="translate(131.60,187.80) scale(8.00,19.80)" fill="rgb(119,119,119)" stroke="rgb(50,50,50)"/><path d="M131.60,193.74V203.64" stroke="rgb(50,50,50)" stroke-opacity="0.6" stroke-width="0.9"/>
<circle cx="131.60" cy="190.40" r="0.75" fill="#f0f0f0"/><circle cx="131.60" cy="206.20" r="0.8" fill="#f4f4f4"/>
<use href="#m" transform="translate(138.20,187.80) scale(8.00,19.80)" fill="rgb(119,119,119)" stroke="rgb(50,50,50)"/><path d="M138.20,193.74V203.64" stroke="rgb(50,50,50)" stroke-opacity="0.6" stroke-width="0.9"/>
<circle cx="138.20" cy="190.40" r="0.75" fill="#f0f0f0"/><circle cx="138.20" cy="206.20" r="0.8" fill="#f4f4f4"/>
<use href="#m" transform="translate(144.00,187.80) scale(8.00,19.80)" fill="rgb(119,119,119)" stroke="rgb(50,50,50)"/><path d="M144.00,193.74V203.64" stroke="rgb(50,50,50)" stroke-opacity="0.6" stroke-width="0.9"/>
<circle cx="144.00" cy="190.40" r="0.75" fill="#f0f0f0"/><circle cx="144.00" cy="206.20" r="0.8" fill="#f4f4f4"/>
<use href="#m" transform="translate(150.00,187.80) scale(8.00,19.80)" fill="rgb(119,119,119)" stroke="rgb(50,50,50)"/><path d="M150.00,193.74V203.64" stroke="rgb(50,50,50)" stroke-opacity="0.6" stroke-width="0.9"/>
<circle cx="150.00" cy="190.40" r="0.75" fill="#f0f0f0"/><circle cx="150.00" cy="206.20" r="0.8" fill="#f4f4f4"/>
<use href="#m" transform="translate(157.50,187.80) scale(8.00,19.80)" fill="rgb(119,119,119)" stroke="rgb(50,50,50)"/><path d="M157.50,193.74V203.64" stroke="rgb(50,50,50)" stroke-opacity="0.6" stroke-width="0.9"/>
<circle cx="157.50" cy="190.40" r="0.75" fill="#f0f0f0"/><circle cx="157.50" cy="206.20" r="0.8" fill="#f4f4f4"/>
</g>
<rect x="126.25" y="187.8" width="38.95" height="19.80" filter="url(#nz)" opacity="0.26"/>
<g filter="url(#bl2)">
<ellipse cx="144" cy="199" rx="2.5" ry="8.5" fill="#5040a8" opacity="0.92"/>
<ellipse cx="146.2" cy="201" rx="1" ry="3" fill="#50c0d0" opacity="0.92"/>
<ellipse cx="157.5" cy="199" rx="2.3" ry="8" fill="#4a40a0" opacity="0.92"/>
<ellipse cx="154.5" cy="202" rx="1" ry="2" fill="#60b070" opacity="0.92"/>
<ellipse cx="150" cy="199.5" rx="3" ry="8.5" fill="#e01818" opacity="0.92"/>
<ellipse cx="149.8" cy="190" rx="2" ry="2" fill="#901030" opacity="0.92"/>
<ellipse cx="152.4" cy="192.5" rx="1.2" ry="1.5" fill="#f0d040" opacity="0.92"/>
</g>
<rect x="126.25" y="187.8" width="38.95" height="19.80" filter="url(#nz)" opacity="0.16"/>
</g>
<clipPath id="c26"><rect x="167.2" y="187.5" width="46.40" height="20.80"/></clipPath>
<g clip-path="url(#c26)">
<rect x="167.2" y="187.5" width="46.40" height="20.80" fill="rgb(150,150,150)"/>
<g filter="url(#bl)">
<use href="#m" transform="translate(172.70,187.50) scale(8.00,20.80)" fill="rgb(144,144,144)" stroke="rgb(75,75,75)"/><path d="M172.70,193.74V204.14" stroke="rgb(75,75,75)" stroke-opacity="0.6" stroke-width="0.9"/>
<circle cx="172.70" cy="190.10" r="0.75" fill="#f0f0f0"/><circle cx="172.70" cy="206.90" r="0.8" fill="#f4f4f4"/>
<use href="#m" transform="translate(181.30,187.50) scale(8.00,20.80)" fill="rgb(144,144,144)" stroke="rgb(75,75,75)"/><path d="M181.30,193.74V204.14" stroke="rgb(75,75,75)" stroke-opacity="0.6" stroke-width="0.9"/>
<circle cx="181.30" cy="190.10" r="0.75" fill="#f0f0f0"/><circle cx="181.30" cy="206.90" r="0.8" fill="#f4f4f4"/>
<use href="#m" transform="translate(190.60,187.50) scale(8.00,20.80)" fill="rgb(144,144,144)" stroke="rgb(75,75,75)"/><path d="M190.60,193.74V204.14" stroke="rgb(75,75,75)" stroke-opacity="0.6" stroke-width="0.9"/>
<circle cx="190.60" cy="190.10" r="0.75" fill="#f0f0f0"/><circle cx="190.60" cy="206.90" r="0.8" fill="#f4f4f4"/>
<use href="#m" transform="translate(199.20,187.50) scale(8.00,20.80)" fill="rgb(144,144,144)" stroke="rgb(75,75,75)"/><path d="M199.20,193.74V204.14" stroke="rgb(75,75,75)" stroke-opacity="0.6" stroke-width="0.9"/>
<circle cx="199.20" cy="190.10" r="0.75" fill="#f0f0f0"/><circle cx="199.20" cy="206.90" r="0.8" fill="#f4f4f4"/>
<use href="#m" transform="translate(207.90,187.50) scale(8.00,20.80)" fill="rgb(144,144,144)" stroke="rgb(75,75,75)"/><path d="M207.90,193.74V204.14" stroke="rgb(75,75,75)" stroke-opacity="0.6" stroke-width="0.9"/>
<circle cx="207.90" cy="190.10" r="0.75" fill="#f0f0f0"/><circle cx="207.90" cy="206.90" r="0.8" fill="#f4f4f4"/>
</g>
<rect x="167.2" y="187.5" width="46.40" height="20.80" filter="url(#nz)" opacity="0.26"/>
</g>
<clipPath id="c27"><rect x="227.2" y="187" width="20.90" height="18.80"/></clipPath>
<g clip-path="url(#c27)">
<rect x="227.2" y="187" width="20.90" height="18.80" fill="rgb(105,105,105)"/>
<g filter="url(#bl)">
<use href="#m" transform="translate(231.50,187.00) scale(8.00,18.80)" fill="rgb(104,104,104)" stroke="rgb(30,30,30)"/><path d="M231.50,192.64V202.04" stroke="rgb(30,30,30)" stroke-opacity="0.6" stroke-width="0.9"/>
<circle cx="231.50" cy="189.60" r="0.75" fill="#f0f0f0"/><circle cx="231.50" cy="204.40" r="0.8" fill="#f4f4f4"/>
<use href="#m" transform="translate(242.50,187.00) scale(8.00,18.80)" fill="rgb(104,104,104)" stroke="rgb(30,30,30)"/><path d="M242.50,192.64V202.04" stroke="rgb(30,30,30)" stroke-opacity="0.6" stroke-width="0.9"/>
<circle cx="242.50" cy="189.60" r="0.75" fill="#f0f0f0"/><circle cx="242.50" cy="204.40" r="0.8" fill="#f4f4f4"/>
</g>
<rect x="227.2" y="187" width="20.90" height="18.80" filter="url(#nz)" opacity="0.26"/>
<g filter="url(#bl2)">
<ellipse cx="244" cy="196" rx="3" ry="8" fill="#8a6a9a" opacity="0.3"/>
</g>
<rect x="227.2" y="187" width="20.90" height="18.80" filter="url(#nz)" opacity="0.16"/>
</g>
<clipPath id="c28"><rect x="251.9" y="187" width="9.90" height="18.80"/></clipPath>
<g clip-path="url(#c28)">
<rect x="251.9" y="187" width="9.90" height="18.80" fill="rgb(80,80,80)"/>
<g filter="url(#bl)">
<use href="#m" transform="translate(256.80,187.00) scale(8.00,18.80)" fill="rgb(84,84,84)" stroke="rgb(30,30,30)"/><path d="M256.80,192.64V202.04" stroke="rgb(30,30,30)" stroke-opacity="0.6" stroke-width="0.9"/>
<circle cx="256.80" cy="189.60" r="0.75" fill="#f0f0f0"/><circle cx="256.80" cy="204.40" r="0.8" fill="#f4f4f4"/>
</g>
<rect x="251.9" y="187" width="9.90" height="18.80" filter="url(#nz)" opacity="0.26"/>
<g filter="url(#bl2)">
<ellipse cx="253" cy="196" rx="2" ry="9" fill="#3a6a6a" opacity="0.92"/>
<ellipse cx="260.5" cy="196" rx="2" ry="9" fill="#3a6a6a" opacity="0.92"/>
<ellipse cx="256.5" cy="195" rx="2.8" ry="5" fill="#e02020" opacity="0.92"/>
<ellipse cx="256.5" cy="201" rx="2.5" ry="3" fill="#e0a040" opacity="0.92"/>
</g>
<rect x="251.9" y="187" width="9.90" height="18.80" filter="url(#nz)" opacity="0.16"/>
</g>
<clipPath id="c29"><rect x="278" y="186.75" width="45.75" height="18.75"/></clipPath>
<g clip-path="url(#c29)">
<rect x="278" y="186.75" width="45.75" height="18.75" fill="rgb(85,85,85)"/>
<g filter="url(#bl)">
<use href="#m" transform="translate(282.57,186.75) scale(8.69,18.75)" fill="rgb(99,99,99)" stroke="rgb(20,20,20)"/><path d="M282.57,192.38V201.75" stroke="rgb(20,20,20)" stroke-opacity="0.6" stroke-width="0.9"/>
<circle cx="282.57" cy="189.35" r="0.75" fill="#f0f0f0"/><circle cx="282.57" cy="204.10" r="0.8" fill="#f4f4f4"/>
<use href="#m" transform="translate(291.73,186.75) scale(8.69,18.75)" fill="rgb(99,99,99)" stroke="rgb(20,20,20)"/><path d="M291.73,192.38V201.75" stroke="rgb(20,20,20)" stroke-opacity="0.6" stroke-width="0.9"/>
<circle cx="291.73" cy="189.35" r="0.75" fill="#f0f0f0"/><circle cx="291.73" cy="204.10" r="0.8" fill="#f4f4f4"/>
<use href="#m" transform="translate(300.88,186.75) scale(8.69,18.75)" fill="rgb(99,99,99)" stroke="rgb(20,20,20)"/><path d="M300.88,192.38V201.75" stroke="rgb(20,20,20)" stroke-opacity="0.6" stroke-width="0.9"/>
<circle cx="300.88" cy="189.35" r="0.75" fill="#f0f0f0"/><circle cx="300.88" cy="204.10" r="0.8" fill="#f4f4f4"/>
<use href="#m" transform="translate(310.02,186.75) scale(8.69,18.75)" fill="rgb(99,99,99)" stroke="rgb(20,20,20)"/><path d="M310.02,192.38V201.75" stroke="rgb(20,20,20)" stroke-opacity="0.6" stroke-width="0.9"/>
<circle cx="310.02" cy="189.35" r="0.75" fill="#f0f0f0"/><circle cx="310.02" cy="204.10" r="0.8" fill="#f4f4f4"/>
<use href="#m" transform="translate(319.18,186.75) scale(8.69,18.75)" fill="rgb(99,99,99)" stroke="rgb(20,20,20)"/><path d="M319.18,192.38V201.75" stroke="rgb(20,20,20)" stroke-opacity="0.6" stroke-width="0.9"/>
<circle cx="319.18" cy="189.35" r="0.75" fill="#f0f0f0"/><circle cx="319.18" cy="204.10" r="0.8" fill="#f4f4f4"/>
</g>
<rect x="278" y="186.75" width="45.75" height="18.75" filter="url(#nz)" opacity="0.26"/>
</g>
<clipPath id="c30"><rect x="85" y="220" width="38.00" height="20.50"/></clipPath>
<g clip-path="url(#c30)">
<rect x="85" y="220" width="38.00" height="20.50" fill="rgb(150,150,150)"/>
<g filter="url(#bl)">
<use href="#m" transform="translate(90.30,220.00) scale(8.00,20.50)" fill="rgb(114,114,114)" stroke="rgb(35,35,35)"/><path d="M90.30,226.15V236.40" stroke="rgb(35,35,35)" stroke-opacity="0.6" stroke-width="0.9"/>
<circle cx="90.30" cy="222.60" r="0.75" fill="#f0f0f0"/><circle cx="90.30" cy="239.10" r="0.8" fill="#f4f4f4"/>
<use href="#m" transform="translate(99.40,220.00) scale(8.00,20.50)" fill="rgb(114,114,114)" stroke="rgb(35,35,35)"/><path d="M99.40,226.15V236.40" stroke="rgb(35,35,35)" stroke-opacity="0.6" stroke-width="0.9"/>
<circle cx="99.40" cy="222.60" r="0.75" fill="#f0f0f0"/><circle cx="99.40" cy="239.10" r="0.8" fill="#f4f4f4"/>
<use href="#m" transform="translate(116.70,220.00) scale(8.00,20.50)" fill="rgb(114,114,114)" stroke="rgb(35,35,35)"/><path d="M116.70,226.15V236.40" stroke="rgb(35,35,35)" stroke-opacity="0.6" stroke-width="0.9"/>
<circle cx="116.70" cy="222.60" r="0.75" fill="#f0f0f0"/><circle cx="116.70" cy="239.10" r="0.8" fill="#f4f4f4"/>
</g>
<rect x="85" y="220" width="38.00" height="20.50" filter="url(#nz)" opacity="0.26"/>
<g filter="url(#bl2)">
<ellipse cx="90.3" cy="233" rx="2.8" ry="5" fill="#5a58a8" opacity="0.8"/>
<ellipse cx="96.3" cy="229" rx="1.2" ry="4" fill="#60b8b8" opacity="0.7"/>
<ellipse cx="103" cy="230" rx="1" ry="3" fill="#70c0c0" opacity="0.6"/>
<ellipse cx="99.5" cy="232" rx="3" ry="5.5" fill="#e01818" opacity="0.92"/>
</g>
<rect x="85" y="220" width="38.00" height="20.50" filter="url(#nz)" opacity="0.16"/>
</g>
<clipPath id="c31"><rect x="126.75" y="220.5" width="39.50" height="19.00"/></clipPath>
<g clip-path="url(#c31)">
<rect x="126.75" y="220.5" width="39.50" height="19.00" fill="rgb(140,140,140)"/>
<g filter="url(#bl)">
<use href="#m" transform="translate(134.90,220.50) scale(8.00,19.00)" fill="rgb(104,104,104)" stroke="rgb(25,25,25)"/><path d="M134.90,226.20V235.70" stroke="rgb(25,25,25)" stroke-opacity="0.6" stroke-width="0.9"/>
<circle cx="134.90" cy="223.10" r="0.75" fill="#f0f0f0"/><circle cx="134.90" cy="238.10" r="0.8" fill="#f4f4f4"/>
<use href="#m" transform="translate(143.20,220.50) scale(8.00,19.00)" fill="rgb(104,104,104)" stroke="rgb(25,25,25)"/><path d="M143.20,226.20V235.70" stroke="rgb(25,25,25)" stroke-opacity="0.6" stroke-width="0.9"/>
<circle cx="143.20" cy="223.10" r="0.75" fill="#f0f0f0"/><circle cx="143.20" cy="238.10" r="0.8" fill="#f4f4f4"/>
<use href="#m" transform="translate(159.70,220.50) scale(8.00,19.00)" fill="rgb(104,104,104)" stroke="rgb(25,25,25)"/><path d="M159.70,226.20V235.70" stroke="rgb(25,25,25)" stroke-opacity="0.6" stroke-width="0.9"/>
<circle cx="159.70" cy="223.10" r="0.75" fill="#f0f0f0"/><circle cx="159.70" cy="238.10" r="0.8" fill="#f4f4f4"/>
</g>
<rect x="126.75" y="220.5" width="39.50" height="19.00" filter="url(#nz)" opacity="0.26"/>
</g>
<clipPath id="c32"><rect x="168.7" y="219.8" width="46.40" height="21.90"/></clipPath>
<g clip-path="url(#c32)">
<rect x="168.7" y="219.8" width="46.40" height="21.90" fill="rgb(150,150,150)"/>
<g filter="url(#bl)">
<use href="#m" transform="translate(174.40,219.80) scale(8.00,21.90)" fill="rgb(144,144,144)" stroke="rgb(75,75,75)"/><path d="M174.40,226.37V237.32" stroke="rgb(75,75,75)" stroke-opacity="0.6" stroke-width="0.9"/>
<circle cx="174.40" cy="222.40" r="0.75" fill="#f0f0f0"/><circle cx="174.40" cy="240.30" r="0.8" fill="#f4f4f4"/>
<use href="#m" transform="translate(183.60,219.80) scale(8.00,21.90)" fill="rgb(144,144,144)" stroke="rgb(75,75,75)"/><path d="M183.60,226.37V237.32" stroke="rgb(75,75,75)" stroke-opacity="0.6" stroke-width="0.9"/>
<circle cx="183.60" cy="222.40" r="0.75" fill="#f0f0f0"/><circle cx="183.60" cy="240.30" r="0.8" fill="#f4f4f4"/>
<use href="#m" transform="translate(192.30,219.80) scale(8.00,21.90)" fill="rgb(144,144,144)" stroke="rgb(75,75,75)"/><path d="M192.30,226.37V237.32" stroke="rgb(75,75,75)" stroke-opacity="0.6" stroke-width="0.9"/>
<circle cx="192.30" cy="222.40" r="0.75" fill="#f0f0f0"/><circle cx="192.30" cy="240.30" r="0.8" fill="#f4f4f4"/>
<use href="#m" transform="translate(200.90,219.80) scale(8.00,21.90)" fill="rgb(144,144,144)" stroke="rgb(75,75,75)"/><path d="M200.90,226.37V237.32" stroke="rgb(75,75,75)" stroke-opacity="0.6" stroke-width="0.9"/>
<circle cx="200.90" cy="222.40" r="0.75" fill="#f0f0f0"/><circle cx="200.90" cy="240.30" r="0.8" fill="#f4f4f4"/>
<use href="#m" transform="translate(209.60,219.80) scale(8.00,21.90)" fill="rgb(144,144,144)" stroke="rgb(75,75,75)"/><path d="M209.60,226.37V237.32" stroke="rgb(75,75,75)" stroke-opacity="0.6" stroke-width="0.9"/>
<circle cx="209.60" cy="222.40" r="0.75" fill="#f0f0f0"/><circle cx="209.60" cy="240.30" r="0.8" fill="#f4f4f4"/>
</g>
<rect x="168.7" y="219.8" width="46.40" height="21.90" filter="url(#nz)" opacity="0.26"/>
</g>
<clipPath id="c33"><rect x="227" y="219.5" width="27.50" height="20.50"/></clipPath>
<g clip-path="url(#c33)">
<rect x="227" y="219.5" width="27.50" height="20.50" fill="rgb(170,170,170)"/>
<g filter="url(#bl)">
<use href="#m" transform="translate(231.80,219.50) scale(8.00,20.50)" fill="rgb(154,154,154)" stroke="rgb(90,90,90)"/><path d="M231.80,225.65V235.90" stroke="rgb(90,90,90)" stroke-opacity="0.6" stroke-width="0.9"/>
<circle cx="231.80" cy="222.10" r="0.75" fill="#f0f0f0"/><circle cx="231.80" cy="238.60" r="0.8" fill="#f4f4f4"/>
<use href="#m" transform="translate(249.50,219.50) scale(8.00,20.50)" fill="rgb(154,154,154)" stroke="rgb(90,90,90)"/><path d="M249.50,225.65V235.90" stroke="rgb(90,90,90)" stroke-opacity="0.6" stroke-width="0.9"/>
<circle cx="249.50" cy="222.10" r="0.75" fill="#f0f0f0"/><circle cx="249.50" cy="238.60" r="0.8" fill="#f4f4f4"/>
</g>
<rect x="227" y="219.5" width="27.50" height="20.50" filter="url(#nz)" opacity="0.26"/>
</g>
<clipPath id="c34"><rect x="278" y="219.5" width="45.75" height="19.25"/></clipPath>
<g clip-path="url(#c34)">
<rect x="278" y="219.5" width="45.75" height="19.25" fill="rgb(85,85,85)"/>
<g filter="url(#bl)">
<use href="#m" transform="translate(282.57,219.50) scale(8.69,19.25)" fill="rgb(99,99,99)" stroke="rgb(20,20,20)"/><path d="M282.57,225.28V234.90" stroke="rgb(20,20,20)" stroke-opacity="0.6" stroke-width="0.9"/>
<circle cx="282.57" cy="222.10" r="0.75" fill="#f0f0f0"/><circle cx="282.57" cy="237.35" r="0.8" fill="#f4f4f4"/>
<use href="#m" transform="translate(291.73,219.50) scale(8.69,19.25)" fill="rgb(99,99,99)" stroke="rgb(20,20,20)"/><path d="M291.73,225.28V234.90" stroke="rgb(20,20,20)" stroke-opacity="0.6" stroke-width="0.9"/>
<circle cx="291.73" cy="222.10" r="0.75" fill="#f0f0f0"/><circle cx="291.73" cy="237.35" r="0.8" fill="#f4f4f4"/>
<use href="#m" transform="translate(300.88,219.50) scale(8.69,19.25)" fill="rgb(99,99,99)" stroke="rgb(20,20,20)"/><path d="M300.88,225.28V234.90" stroke="rgb(20,20,20)" stroke-opacity="0.6" stroke-width="0.9"/>
<circle cx="300.88" cy="222.10" r="0.75" fill="#f0f0f0"/><circle cx="300.88" cy="237.35" r="0.8" fill="#f4f4f4"/>
<use href="#m" transform="translate(310.02,219.50) scale(8.69,19.25)" fill="rgb(99,99,99)" stroke="rgb(20,20,20)"/><path d="M310.02,225.28V234.90" stroke="rgb(20,20,20)" stroke-opacity="0.6" stroke-width="0.9"/>
<circle cx="310.02" cy="222.10" r="0.75" fill="#f0f0f0"/><circle cx="310.02" cy="237.35" r="0.8" fill="#f4f4f4"/>
<use href="#m" transform="translate(319.18,219.50) scale(8.69,19.25)" fill="rgb(99,99,99)" stroke="rgb(20,20,20)"/><path d="M319.18,225.28V234.90" stroke="rgb(20,20,20)" stroke-opacity="0.6" stroke-width="0.9"/>
<circle cx="319.18" cy="222.10" r="0.75" fill="#f0f0f0"/><circle cx="319.18" cy="237.35" r="0.8" fill="#f4f4f4"/>
</g>
<rect x="278" y="219.5" width="45.75" height="19.25" filter="url(#nz)" opacity="0.26"/>
</g>
<clipPath id="c35"><rect x="85.5" y="253.9" width="37.70" height="19.40"/></clipPath>
<g clip-path="url(#c35)">
<rect x="85.5" y="253.9" width="37.70" height="19.40" fill="rgb(120,120,120)"/>
<g filter="url(#bl)">
</g>
<rect x="85.5" y="253.9" width="37.70" height="19.40" filter="url(#nz)" opacity="0.26"/>
<g filter="url(#bl2)">
<ellipse cx="87.6" cy="263.5" rx="2.4" ry="16" fill="#3c38a0" opacity="1"/>
<ellipse cx="93.2" cy="263.5" rx="3.9" ry="16" fill="#a8cc38" opacity="1"/>
<ellipse cx="92" cy="268.5" rx="2" ry="3.5" fill="#e8e040" opacity="1"/>
<ellipse cx="94.5" cy="259" rx="1.2" ry="2" fill="#607030" opacity="0.6"/>
<ellipse cx="100.2" cy="264.5" rx="3.3" ry="11" fill="#e41a14" opacity="1"/>
<ellipse cx="100" cy="256" rx="2.2" ry="3" fill="#e41a14" opacity="1"/>
<ellipse cx="104.5" cy="263.5" rx="1.5" ry="16" fill="#30a088" opacity="1"/>
<ellipse cx="108.8" cy="263.5" rx="3" ry="16" fill="#4a48c0" opacity="1"/>
<ellipse cx="113" cy="263.5" rx="1.8" ry="16" fill="#6870c8" opacity="1"/>
<ellipse cx="118.5" cy="263.5" rx="4.8" ry="16" fill="#8c96bc" opacity="1"/>
<ellipse cx="117" cy="260" rx="1.5" ry="5" fill="#c0c8e0" opacity="0.7"/>
</g>
<rect x="85.5" y="253.9" width="37.70" height="19.40" filter="url(#nz)" opacity="0.16"/>
</g>
<clipPath id="c36"><rect x="128.9" y="253.8" width="37.60" height="18.10"/></clipPath>
<g clip-path="url(#c36)">
<rect x="128.9" y="253.8" width="37.60" height="18.10" fill="rgb(140,140,140)"/>
<g filter="url(#bl)">
<use href="#m" transform="translate(133.70,253.80) scale(8.00,18.10)" fill="rgb(104,104,104)" stroke="rgb(30,30,30)"/><path d="M133.70,259.23V268.28" stroke="rgb(30,30,30)" stroke-opacity="0.6" stroke-width="0.9"/>
<circle cx="133.70" cy="256.40" r="0.75" fill="#f0f0f0"/><circle cx="133.70" cy="270.50" r="0.8" fill="#f4f4f4"/>
<use href="#m" transform="translate(141.30,253.80) scale(8.00,18.10)" fill="rgb(104,104,104)" stroke="rgb(30,30,30)"/><path d="M141.30,259.23V268.28" stroke="rgb(30,30,30)" stroke-opacity="0.6" stroke-width="0.9"/>
<circle cx="141.30" cy="256.40" r="0.75" fill="#f0f0f0"/><circle cx="141.30" cy="270.50" r="0.8" fill="#f4f4f4"/>
<use href="#m" transform="translate(159.40,253.80) scale(8.00,18.10)" fill="rgb(104,104,104)" stroke="rgb(30,30,30)"/><path d="M159.40,259.23V268.28" stroke="rgb(30,30,30)" stroke-opacity="0.6" stroke-width="0.9"/>
<circle cx="159.40" cy="256.40" r="0.75" fill="#f0f0f0"/><circle cx="159.40" cy="270.50" r="0.8" fill="#f4f4f4"/>
</g>
<rect x="128.9" y="253.8" width="37.60" height="18.10" filter="url(#nz)" opacity="0.26"/>
</g>
<clipPath id="c37"><rect x="170.1" y="251.5" width="46.20" height="20.80"/></clipPath>
<g clip-path="url(#c37)">
<rect x="170.1" y="251.5" width="46.20" height="20.80" fill="rgb(160,160,160)"/>
<g filter="url(#bl)">
<use href="#m" transform="translate(176.10,251.50) scale(8.00,20.80)" fill="rgb(144,144,144)" stroke="rgb(70,70,70)"/><path d="M176.10,257.74V268.14" stroke="rgb(70,70,70)" stroke-opacity="0.6" stroke-width="0.9"/>
<circle cx="176.10" cy="254.10" r="0.75" fill="#f0f0f0"/><circle cx="176.10" cy="270.90" r="0.8" fill="#f4f4f4"/>
<use href="#m" transform="translate(184.80,251.50) scale(8.00,20.80)" fill="rgb(144,144,144)" stroke="rgb(70,70,70)"/><path d="M184.80,257.74V268.14" stroke="rgb(70,70,70)" stroke-opacity="0.6" stroke-width="0.9"/>
<circle cx="184.80" cy="254.10" r="0.75" fill="#f0f0f0"/><circle cx="184.80" cy="270.90" r="0.8" fill="#f4f4f4"/>
<use href="#m" transform="translate(193.40,251.50) scale(8.00,20.80)" fill="rgb(144,144,144)" stroke="rgb(70,70,70)"/><path d="M193.40,257.74V268.14" stroke="rgb(70,70,70)" stroke-opacity="0.6" stroke-width="0.9"/>
<circle cx="193.40" cy="254.10" r="0.75" fill="#f0f0f0"/><circle cx="193.40" cy="270.90" r="0.8" fill="#f4f4f4"/>
<use href="#m" transform="translate(202.10,251.50) scale(8.00,20.80)" fill="rgb(144,144,144)" stroke="rgb(70,70,70)"/><path d="M202.10,257.74V268.14" stroke="rgb(70,70,70)" stroke-opacity="0.6" stroke-width="0.9"/>
<circle cx="202.10" cy="254.10" r="0.75" fill="#f0f0f0"/><circle cx="202.10" cy="270.90" r="0.8" fill="#f4f4f4"/>
<use href="#m" transform="translate(210.70,251.50) scale(8.00,20.80)" fill="rgb(144,144,144)" stroke="rgb(70,70,70)"/><path d="M210.70,257.74V268.14" stroke="rgb(70,70,70)" stroke-opacity="0.6" stroke-width="0.9"/>
<circle cx="210.70" cy="254.10" r="0.75" fill="#f0f0f0"/><circle cx="210.70" cy="270.90" r="0.8" fill="#f4f4f4"/>
</g>
<rect x="170.1" y="251.5" width="46.20" height="20.80" filter="url(#nz)" opacity="0.26"/>
</g>
<clipPath id="c38"><rect x="227" y="252" width="30.00" height="19.25"/></clipPath>
<g clip-path="url(#c38)">
<rect x="227" y="252" width="30.00" height="19.25" fill="rgb(135,135,135)"/>
<g filter="url(#bl)">
<use href="#m" transform="translate(232.20,252.00) scale(8.00,19.25)" fill="rgb(104,104,104)" stroke="rgb(20,20,20)"/><path d="M232.20,257.77V267.40" stroke="rgb(20,20,20)" stroke-opacity="0.6" stroke-width="0.9"/>
<circle cx="232.20" cy="254.60" r="0.75" fill="#f0f0f0"/><circle cx="232.20" cy="269.85" r="0.8" fill="#f4f4f4"/>
<use href="#m" transform="translate(249.50,252.00) scale(8.00,19.25)" fill="rgb(104,104,104)" stroke="rgb(20,20,20)"/><path d="M249.50,257.77V267.40" stroke="rgb(20,20,20)" stroke-opacity="0.6" stroke-width="0.9"/>
<circle cx="249.50" cy="254.60" r="0.75" fill="#f0f0f0"/><circle cx="249.50" cy="269.85" r="0.8" fill="#f4f4f4"/>
</g>
<rect x="227" y="252" width="30.00" height="19.25" filter="url(#nz)" opacity="0.26"/>
</g>
<clipPath id="c39"><rect x="278.75" y="252.5" width="45.75" height="19.50"/></clipPath>
<g clip-path="url(#c39)">
<rect x="278.75" y="252.5" width="45.75" height="19.50" fill="rgb(110,110,110)"/>
<g filter="url(#bl)">
<use href="#m" transform="translate(283.32,252.50) scale(8.69,19.50)" fill="rgb(114,114,114)" stroke="rgb(35,35,35)"/><path d="M283.32,258.35V268.10" stroke="rgb(35,35,35)" stroke-opacity="0.6" stroke-width="0.9"/>
<circle cx="283.32" cy="255.10" r="0.75" fill="#f0f0f0"/><circle cx="283.32" cy="270.60" r="0.8" fill="#f4f4f4"/>
<use href="#m" transform="translate(292.48,252.50) scale(8.69,19.50)" fill="rgb(114,114,114)" stroke="rgb(35,35,35)"/><path d="M292.48,258.35V268.10" stroke="rgb(35,35,35)" stroke-opacity="0.6" stroke-width="0.9"/>
<circle cx="292.48" cy="255.10" r="0.75" fill="#f0f0f0"/><circle cx="292.48" cy="270.60" r="0.8" fill="#f4f4f4"/>
<use href="#m" transform="translate(301.62,252.50) scale(8.69,19.50)" fill="rgb(114,114,114)" stroke="rgb(35,35,35)"/><path d="M301.62,258.35V268.10" stroke="rgb(35,35,35)" stroke-opacity="0.6" stroke-width="0.9"/>
<circle cx="301.62" cy="255.10" r="0.75" fill="#f0f0f0"/><circle cx="301.62" cy="270.60" r="0.8" fill="#f4f4f4"/>
<use href="#m" transform="translate(310.77,252.50) scale(8.69,19.50)" fill="rgb(114,114,114)" stroke="rgb(35,35,35)"/><path d="M310.77,258.35V268.10" stroke="rgb(35,35,35)" stroke-opacity="0.6" stroke-width="0.9"/>
<circle cx="310.77" cy="255.10" r="0.75" fill="#f0f0f0"/><circle cx="310.77" cy="270.60" r="0.8" fill="#f4f4f4"/>
<use href="#m" transform="translate(319.93,252.50) scale(8.69,19.50)" fill="rgb(114,114,114)" stroke="rgb(35,35,35)"/><path d="M319.93,258.35V268.10" stroke="rgb(35,35,35)" stroke-opacity="0.6" stroke-width="0.9"/>
<circle cx="319.93" cy="255.10" r="0.75" fill="#f0f0f0"/><circle cx="319.93" cy="270.60" r="0.8" fill="#f4f4f4"/>
</g>
<rect x="278.75" y="252.5" width="45.75" height="19.50" filter="url(#nz)" opacity="0.26"/>
</g>
<line x1="369.35" y1="33.3" x2="369.35" y2="131.60" stroke="#111" stroke-width="1.4"/>
<line x1="368.7" y1="130.90" x2="513" y2="130.90" stroke="#111" stroke-width="1.3"/>
<line x1="366.1" y1="130.90" x2="369.4" y2="130.90" stroke="#111" stroke-width="1.2"/>
<line x1="366.1" y1="99.40" x2="369.4" y2="99.40" stroke="#111" stroke-width="1.2"/>
<line x1="366.1" y1="67.90" x2="369.4" y2="67.90" stroke="#111" stroke-width="1.2"/>
<line x1="366.1" y1="36.40" x2="369.4" y2="36.40" stroke="#111" stroke-width="1.2"/>
<line x1="401.18" y1="73.73" x2="401.18" y2="67.59" stroke="#1c1c28" stroke-width="1.1"/><line x1="399.88" y1="67.89" x2="402.48" y2="67.89" stroke="#1c1c28" stroke-width="1.3"/>
<line x1="444.14" y1="91.84" x2="444.14" y2="82.55" stroke="#1c1c28" stroke-width="1.1"/><line x1="442.84" y1="82.85" x2="445.44" y2="82.85" stroke="#1c1c28" stroke-width="1.3"/>
<line x1="465.62" y1="83.65" x2="465.62" y2="77.67" stroke="#1c1c28" stroke-width="1.1"/><line x1="464.32" y1="77.97" x2="466.92" y2="77.97" stroke="#1c1c28" stroke-width="1.3"/>
<line x1="487.10" y1="63.96" x2="487.10" y2="56.40" stroke="#1c1c28" stroke-width="1.1"/><line x1="485.80" y1="56.70" x2="488.40" y2="56.70" stroke="#1c1c28" stroke-width="1.3"/>
<line x1="508.58" y1="63.96" x2="508.58" y2="58.45" stroke="#1c1c28" stroke-width="1.1"/><line x1="507.28" y1="58.75" x2="509.88" y2="58.75" stroke="#1c1c28" stroke-width="1.3"/>
<line x1="401.18" y1="60.97" x2="401.18" y2="58.77" stroke="#1c1c28" stroke-width="1.1"/><line x1="399.88" y1="59.06" x2="402.48" y2="59.06" stroke="#1c1c28" stroke-width="1.3"/>
<line x1="422.66" y1="83.65" x2="422.66" y2="81.29" stroke="#1c1c28" stroke-width="1.1"/><line x1="421.36" y1="81.59" x2="423.96" y2="81.59" stroke="#1c1c28" stroke-width="1.3"/>
<line x1="444.14" y1="77.03" x2="444.14" y2="71.37" stroke="#1c1c28" stroke-width="1.1"/><line x1="442.84" y1="71.67" x2="445.44" y2="71.67" stroke="#1c1c28" stroke-width="1.3"/>
<line x1="465.62" y1="66.33" x2="465.62" y2="60.34" stroke="#1c1c28" stroke-width="1.1"/><line x1="464.32" y1="60.64" x2="466.92" y2="60.64" stroke="#1c1c28" stroke-width="1.3"/>
<line x1="487.10" y1="48.84" x2="487.10" y2="43.17" stroke="#1c1c28" stroke-width="1.1"/><line x1="485.80" y1="43.47" x2="488.40" y2="43.47" stroke="#1c1c28" stroke-width="1.3"/>
<line x1="508.58" y1="56.88" x2="508.58" y2="51.84" stroke="#1c1c28" stroke-width="1.1"/><line x1="507.28" y1="52.14" x2="509.88" y2="52.14" stroke="#1c1c28" stroke-width="1.3"/>
<line x1="401.18" y1="87.12" x2="401.18" y2="82.55" stroke="#1c1c28" stroke-width="1.1"/><line x1="399.88" y1="82.85" x2="402.48" y2="82.85" stroke="#1c1c28" stroke-width="1.3"/>
<line x1="422.66" y1="113.42" x2="422.66" y2="108.85" stroke="#1c1c28" stroke-width="1.1"/><line x1="421.36" y1="109.15" x2="423.96" y2="109.15" stroke="#1c1c28" stroke-width="1.3"/>
<line x1="444.14" y1="113.42" x2="444.14" y2="108.38" stroke="#1c1c28" stroke-width="1.1"/><line x1="442.84" y1="108.68" x2="445.44" y2="108.68" stroke="#1c1c28" stroke-width="1.3"/>
<line x1="465.62" y1="111.37" x2="465.62" y2="104.28" stroke="#1c1c28" stroke-width="1.1"/><line x1="464.32" y1="104.58" x2="466.92" y2="104.58" stroke="#1c1c28" stroke-width="1.3"/>
<line x1="508.58" y1="99.87" x2="508.58" y2="83.18" stroke="#1c1c28" stroke-width="1.1"/><line x1="507.28" y1="83.48" x2="509.88" y2="83.48" stroke="#1c1c28" stroke-width="1.3"/>
<line x1="422.66" y1="99.87" x2="422.66" y2="93.10" stroke="#1c1c28" stroke-width="1.1"/><line x1="421.36" y1="93.40" x2="423.96" y2="93.40" stroke="#1c1c28" stroke-width="1.3"/>
<polyline points="379.70,130.90 401.18,60.97 422.66,83.65 444.14,77.03 465.62,66.33 487.10,48.84 508.58,56.88" fill="none" stroke="#263b68" stroke-width="1.7" stroke-linejoin="round"/>
<polyline points="379.70,130.90 401.18,73.73 422.66,83.65 444.14,91.84 465.62,83.65 487.10,63.96 508.58,63.96" fill="none" stroke="#263b68" stroke-width="1.7" stroke-linejoin="round"/>
<polyline points="379.70,130.90 401.18,87.12 422.66,113.42 444.14,113.42 465.62,111.37 487.10,99.87 508.58,99.87" fill="none" stroke="#78b444" stroke-width="1.7" stroke-linejoin="round"/>
<line x1="379.70" y1="130.90" x2="513" y2="130.90" stroke="#a3173a" stroke-width="1.7"/>
<polyline points="379.70,130.90 401.18,130.90 422.66,99.87" fill="none" stroke="#a3173a" stroke-width="1.7" stroke-linejoin="round"/>
<circle cx="379.70" cy="130.90" r="2.05" fill="none" stroke="#263b68" stroke-width="1.2"/>
<circle cx="379.70" cy="130.90" r="2.4" fill="#263b68"/>
<circle cx="379.70" cy="130.90" r="2.05" fill="none" stroke="#78b444" stroke-width="1.2"/>
<circle cx="401.18" cy="73.73" r="2.05" fill="none" stroke="#263b68" stroke-width="1.2"/>
<circle cx="401.18" cy="60.97" r="2.4" fill="#263b68"/>
<circle cx="401.18" cy="87.12" r="2.05" fill="none" stroke="#78b444" stroke-width="1.2"/>
<circle cx="422.66" cy="83.65" r="2.05" fill="none" stroke="#263b68" stroke-width="1.2"/>
<circle cx="422.66" cy="83.65" r="2.4" fill="#263b68"/>
<circle cx="422.66" cy="113.42" r="2.05" fill="none" stroke="#78b444" stroke-width="1.2"/>
<circle cx="444.14" cy="91.84" r="2.05" fill="none" stroke="#263b68" stroke-width="1.2"/>
<circle cx="444.14" cy="77.03" r="2.4" fill="#263b68"/>
<circle cx="444.14" cy="113.42" r="2.05" fill="none" stroke="#78b444" stroke-width="1.2"/>
<circle cx="465.62" cy="83.65" r="2.05" fill="none" stroke="#263b68" stroke-width="1.2"/>
<circle cx="465.62" cy="66.33" r="2.4" fill="#263b68"/>
<circle cx="465.62" cy="111.37" r="2.05" fill="none" stroke="#78b444" stroke-width="1.2"/>
<circle cx="487.10" cy="63.96" r="2.05" fill="none" stroke="#263b68" stroke-width="1.2"/>
<circle cx="487.10" cy="48.84" r="2.4" fill="#263b68"/>
<circle cx="487.10" cy="99.87" r="2.05" fill="none" stroke="#78b444" stroke-width="1.2"/>
<circle cx="508.58" cy="63.96" r="2.05" fill="none" stroke="#263b68" stroke-width="1.2"/>
<circle cx="508.58" cy="56.88" r="2.4" fill="#263b68"/>
<circle cx="508.58" cy="99.87" r="2.05" fill="none" stroke="#78b444" stroke-width="1.2"/>
<rect x="377.50" y="128.80" width="4.4" height="4.2" fill="none" stroke="#a3173a" stroke-width="1.1"/>
<rect x="398.98" y="128.80" width="4.4" height="4.2" fill="none" stroke="#a3173a" stroke-width="1.1"/>
<rect x="420.46" y="128.80" width="4.4" height="4.2" fill="none" stroke="#a3173a" stroke-width="1.1"/>
<rect x="441.94" y="128.80" width="4.4" height="4.2" fill="none" stroke="#a3173a" stroke-width="1.1"/>
<rect x="463.42" y="128.80" width="4.4" height="4.2" fill="none" stroke="#a3173a" stroke-width="1.1"/>
<rect x="484.90" y="128.80" width="4.4" height="4.2" fill="none" stroke="#a3173a" stroke-width="1.1"/>
<rect x="506.38" y="128.80" width="4.4" height="4.2" fill="none" stroke="#a3173a" stroke-width="1.1"/>
<rect x="377.20" y="128.50" width="5" height="4.8" fill="#a3173a"/>
<rect x="398.68" y="128.50" width="5" height="4.8" fill="#a3173a"/>
<rect x="420.16" y="97.47" width="5" height="4.8" fill="#a3173a"/>
<circle cx="422.66" cy="120.6" r="1.15" fill="#222"/>
<circle cx="444.14" cy="120.6" r="1.15" fill="#222"/>
<circle cx="465.62" cy="120.6" r="1.15" fill="#222"/>
<circle cx="487.10" cy="107.6" r="1.15" fill="#222"/>
<circle cx="508.58" cy="107.6" r="1.15" fill="#222"/>
<text x="7.3" y="16.9" font-size="11.8" text-anchor="start" font-weight="bold" fill="#000" textLength="8.2" lengthAdjust="spacingAndGlyphs" >A</text>
<text x="140.0" y="20.6" font-size="9.2" text-anchor="start" font-weight="bold" fill="#000" stroke="#000" stroke-width="0.22" textLength="90.2" lengthAdjust="spacingAndGlyphs" >Tumor burden by BLI</text>
<text x="21.5" y="41.8" font-size="7.9" text-anchor="start" font-weight="normal" fill="#111" stroke="#111" stroke-width="0.04" textLength="57.8" lengthAdjust="spacingAndGlyphs" >Syn BMT + P815</text>
<text x="116.9" y="41.8" font-size="7.9" text-anchor="start" font-weight="normal" fill="#111" stroke="#111" stroke-width="0.04" textLength="57.1" lengthAdjust="spacingAndGlyphs" >Allo BMT + P815</text>
<text x="223.1" y="41.8" font-size="7.9" text-anchor="start" font-weight="normal" fill="#111" stroke="#111" stroke-width="0.04" textLength="102.7" lengthAdjust="spacingAndGlyphs" >AlloBMT + P815 + Roscovitine</text>
<text x="19.2" y="66.15" font-size="7.8" text-anchor="end" font-weight="normal" fill="#111" stroke="#111" stroke-width="0.12" >7</text>
<text x="19.2" y="98.3" font-size="7.8" text-anchor="end" font-weight="normal" fill="#111" stroke="#111" stroke-width="0.12" >10</text>
<text x="19.2" y="131.0" font-size="7.8" text-anchor="end" font-weight="normal" fill="#111" stroke="#111" stroke-width="0.12" >14</text>
<text x="19.2" y="166.0" font-size="7.8" text-anchor="end" font-weight="normal" fill="#111" stroke="#111" stroke-width="0.12" >21</text>
<text x="19.2" y="200.3" font-size="7.8" text-anchor="end" font-weight="normal" fill="#111" stroke="#111" stroke-width="0.12" >28</text>
<text x="19.2" y="232.5" font-size="7.8" text-anchor="end" font-weight="normal" fill="#111" stroke="#111" stroke-width="0.12" >35</text>
<text x="19.2" y="265.8" font-size="7.8" text-anchor="end" font-weight="normal" fill="#111" stroke="#111" stroke-width="0.12" >42</text>
<path d="M83.3,51.6 L83.3,48.5 Q83.3,47.7 84.3,47.7 L206.4,47.7 Q207.4,47.7 207.4,48.5 L207.4,51.6" fill="none" stroke="#2c3a5a" stroke-width="1.1"/><line x1="145.4" y1="44" x2="145.4" y2="47.7" stroke="#2c3a5a" stroke-width="1.2"/>
<path d="M219.2,51.6 L219.2,48.5 Q219.2,47.7 220.2,47.7 L327.8,47.7 Q328.8,47.7 328.8,48.5 L328.8,51.6" fill="none" stroke="#2c3a5a" stroke-width="1.1"/><line x1="273.9" y1="44" x2="273.9" y2="47.7" stroke="#2c3a5a" stroke-width="1.2"/>
<text x="266.3" y="134.9" font-size="10.3" text-anchor="start" font-weight="normal" fill="#7a1430" stroke="#7a1430" stroke-width="0.45" >C</text>
<defs><linearGradient id="cb" x1="0" x2="1" y1="0" y2="0"><stop offset="0.000" stop-color="#bc2428"/><stop offset="0.091" stop-color="#de5a2a"/><stop offset="0.157" stop-color="#ea922c"/><stop offset="0.209" stop-color="#f4d034"/><stop offset="0.268" stop-color="#e4da3a"/><stop offset="0.354" stop-color="#b6cf42"/><stop offset="0.452" stop-color="#86bf48"/><stop offset="0.551" stop-color="#68b24e"/><stop offset="0.623" stop-color="#66ae8c"/><stop offset="0.688" stop-color="#6cb0dc"/><stop offset="0.734" stop-color="#74b4e8"/><stop offset="0.793" stop-color="#4a6ec2"/><stop offset="0.885" stop-color="#34469a"/><stop offset="1.000" stop-color="#2c347e"/></linearGradient></defs>
<rect x="131.1" y="301.1" width="152.4" height="7.4" fill="url(#cb)" stroke="#111" stroke-width="1.1"/>
<text x="131.3" y="296.1" font-size="6.3" text-anchor="middle" font-weight="normal" fill="#111" stroke="#111" stroke-width="0.1" >2</text>
<text x="183.6" y="296.1" font-size="6.3" text-anchor="middle" font-weight="normal" fill="#111" stroke="#111" stroke-width="0.1" >9</text>
<text x="192" y="296.1" font-size="6.3" text-anchor="middle" font-weight="normal" fill="#111" stroke="#111" stroke-width="0.1" >8</text>
<text x="201" y="296.1" font-size="6.3" text-anchor="middle" font-weight="normal" fill="#111" stroke="#111" stroke-width="0.1" >7</text>
<text x="211.2" y="296.1" font-size="6.3" text-anchor="middle" font-weight="normal" fill="#111" stroke="#111" stroke-width="0.1" >6</text>
<text x="223.2" y="296.1" font-size="6.3" text-anchor="middle" font-weight="normal" fill="#111" stroke="#111" stroke-width="0.1" >5</text>
<text x="237.8" y="296.1" font-size="6.3" text-anchor="middle" font-weight="normal" fill="#111" stroke="#111" stroke-width="0.1" >4</text>
<text x="257.4" y="296.1" font-size="6.3" text-anchor="middle" font-weight="normal" fill="#111" stroke="#111" stroke-width="0.1" >3</text>
<text x="283.7" y="296.1" font-size="6.3" text-anchor="middle" font-weight="normal" fill="#111" stroke="#111" stroke-width="0.1" >2</text>
<text x="178.6" y="296.1" font-size="6.3" text-anchor="end" font-weight="normal" fill="#111" stroke="#111" stroke-width="0.1" >10</text>
<text x="179.2" y="291.4" font-size="3.6" text-anchor="start" font-weight="normal" fill="#111" stroke="#111" stroke-width="0.05" >5</text>
<line x1="131.1" y1="298.6" x2="131.1" y2="301.2" stroke="#111" stroke-width="0.9"/>
<line x1="177" y1="298.6" x2="177" y2="301.2" stroke="#111" stroke-width="0.9"/>
<line x1="183.5" y1="298.6" x2="183.5" y2="301.2" stroke="#111" stroke-width="0.9"/>
<line x1="191.5" y1="298.6" x2="191.5" y2="301.2" stroke="#111" stroke-width="0.9"/>
<line x1="200.8" y1="298.6" x2="200.8" y2="301.2" stroke="#111" stroke-width="0.9"/>
<line x1="211.2" y1="298.6" x2="211.2" y2="301.2" stroke="#111" stroke-width="0.9"/>
<line x1="223.1" y1="298.6" x2="223.1" y2="301.2" stroke="#111" stroke-width="0.9"/>
<line x1="237.7" y1="298.6" x2="237.7" y2="301.2" stroke="#111" stroke-width="0.9"/>
<line x1="257.4" y1="298.6" x2="257.4" y2="301.2" stroke="#111" stroke-width="0.9"/>
<line x1="283.5" y1="298.6" x2="283.5" y2="301.2" stroke="#111" stroke-width="0.9"/>
<text x="346.2" y="17.1" font-size="12.2" text-anchor="start" font-weight="bold" fill="#000" textLength="8.2" lengthAdjust="spacingAndGlyphs" >B</text>
<text x="408" y="21.2" font-size="9.6" text-anchor="start" font-weight="bold" fill="#000" stroke="#000" stroke-width="0.22" textLength="65.8" lengthAdjust="spacingAndGlyphs" >Systemic GVHD</text>
<text x="363.3" y="133.7" font-size="7.9" text-anchor="end" font-weight="normal" fill="#111" stroke="#111" stroke-width="0.22" >0</text>
<text x="363.3" y="102.2" font-size="7.9" text-anchor="end" font-weight="normal" fill="#111" stroke="#111" stroke-width="0.22" >2</text>
<text x="363.3" y="70.7" font-size="7.9" text-anchor="end" font-weight="normal" fill="#111" stroke="#111" stroke-width="0.22" >4</text>
<text x="363.3" y="39.2" font-size="7.9" text-anchor="end" font-weight="normal" fill="#111" stroke="#111" stroke-width="0.22" >6</text>
<text x="379.7" y="143.7" font-size="7.9" text-anchor="middle" font-weight="normal" fill="#111" stroke="#111" stroke-width="0.22" >0</text>
<text x="401.18" y="143.7" font-size="7.9" text-anchor="middle" font-weight="normal" fill="#111" stroke="#111" stroke-width="0.22" >7</text>
<text x="422.66" y="143.7" font-size="7.9" text-anchor="middle" font-weight="normal" fill="#111" stroke="#111" stroke-width="0.22" >14</text>
<text x="444.14" y="143.7" font-size="7.9" text-anchor="middle" font-weight="normal" fill="#111" stroke="#111" stroke-width="0.22" >21</text>
<text x="465.62" y="143.7" font-size="7.9" text-anchor="middle" font-weight="normal" fill="#111" stroke="#111" stroke-width="0.22" >28</text>
<text x="487.1" y="143.7" font-size="7.9" text-anchor="middle" font-weight="normal" fill="#111" stroke="#111" stroke-width="0.22" >35</text>
<text x="508.58" y="143.7" font-size="7.9" text-anchor="middle" font-weight="normal" fill="#111" stroke="#111" stroke-width="0.22" >42</text>
<text x="410.0" y="157.3" font-size="10.0" text-anchor="start" font-weight="normal" fill="#111" stroke="#111" stroke-width="0.22" textLength="58.5" lengthAdjust="spacingAndGlyphs" >Days post-BMT</text>
<g transform="translate(353.6,118.6) rotate(-90)"><text x="0" y="0" font-size="9.8" text-anchor="start" font-weight="normal" fill="#111" stroke="#111" stroke-width="0.22" textLength="69.7" lengthAdjust="spacingAndGlyphs" >Mean GVHD score</text></g>
<rect x="381.3" y="166.5" width="4.6" height="4.6" fill="#fff" stroke="#a3173a" stroke-width="1.2"/>
<text x="389.1" y="171.4" font-size="7.8" text-anchor="start" font-weight="normal" fill="#111" stroke="#111" stroke-width="0.1" textLength="30.3" lengthAdjust="spacingAndGlyphs" >Syn BMT</text>
<rect x="431.3" y="166.5" width="5" height="5" fill="#a3173a"/>
<text x="439.2" y="171.4" font-size="7.8" text-anchor="start" font-weight="normal" fill="#111" stroke="#111" stroke-width="0.1" textLength="57.7" lengthAdjust="spacingAndGlyphs" >Syn BMT + P815</text>
<circle cx="383.6" cy="181.7" r="2.35" fill="#fff" stroke="#263b68" stroke-width="1.2"/>
<text x="389.1" y="184.3" font-size="7.8" text-anchor="start" font-weight="normal" fill="#111" stroke="#111" stroke-width="0.1" textLength="32.4" lengthAdjust="spacingAndGlyphs" >Allo BMT</text>
<circle cx="433.8" cy="181.6" r="2.5" fill="#263b68"/>
<text x="439.2" y="184.3" font-size="7.8" text-anchor="start" font-weight="normal" fill="#111" stroke="#111" stroke-width="0.1" textLength="57.7" lengthAdjust="spacingAndGlyphs" >Allo BMT + P815</text>
<circle cx="383.6" cy="194.1" r="2.35" fill="#b8dc98" stroke="#78b444" stroke-width="1.3"/>
<text x="389.1" y="196.8" font-size="7.8" text-anchor="start" font-weight="normal" fill="#111" stroke="#111" stroke-width="0.1" textLength="105.4" lengthAdjust="spacingAndGlyphs" >Allo BMT + P815 + Roscovitine</text>
<text x="345.8" y="227.7" font-size="12.0" text-anchor="start" font-weight="bold" fill="#000" >C</text>
<text x="381.8" y="229.1" font-size="8.7" text-anchor="start" font-weight="bold" fill="#000" stroke="#000" stroke-width="0.22" textLength="86.1" lengthAdjust="spacingAndGlyphs" >Splenic Cdk5 activity</text>
<line x1="394.9" y1="267.72" x2="394.9" y2="265.94" stroke="#222" stroke-width="1"/>
<line x1="391.9" y1="265.94" x2="397.9" y2="265.94" stroke="#222" stroke-width="1"/>
<rect x="387.3" y="267.72" width="15.20" height="43.98" fill="#ab0b2d"/>
<line x1="394.9" y1="311.7" x2="394.9" y2="314.6" stroke="#111" stroke-width="1"/>
<line x1="416.3" y1="283.01" x2="416.3" y2="278.25" stroke="#222" stroke-width="1"/>
<line x1="413.3" y1="278.25" x2="419.3" y2="278.25" stroke="#222" stroke-width="1"/>
<rect x="408.8" y="283.01" width="15.00" height="28.69" fill="#ab0b2d"/>
<line x1="416.3" y1="311.7" x2="416.3" y2="314.6" stroke="#111" stroke-width="1"/>
<line x1="437.9" y1="253.04" x2="437.9" y2="248.08" stroke="#222" stroke-width="1"/>
<line x1="434.9" y1="248.08" x2="440.9" y2="248.08" stroke="#222" stroke-width="1"/>
<rect x="430.4" y="253.04" width="15.00" height="58.66" fill="#ab0b2d"/>
<line x1="437.9" y1="311.7" x2="437.9" y2="314.6" stroke="#111" stroke-width="1"/>
<line x1="459.2" y1="303.06" x2="459.2" y2="299.79" stroke="#222" stroke-width="1"/>
<line x1="456.2" y1="299.79" x2="462.2" y2="299.79" stroke="#222" stroke-width="1"/>
<rect x="451.5" y="303.06" width="15.40" height="8.64" fill="#ab0b2d"/>
<line x1="459.2" y1="311.7" x2="459.2" y2="314.6" stroke="#111" stroke-width="1"/>
<line x1="384.0" y1="241.3" x2="384.0" y2="312.4" stroke="#111" stroke-width="1.4"/>
<line x1="383.4" y1="311.7" x2="469.8" y2="311.7" stroke="#111" stroke-width="1.3"/>
<line x1="380.8" y1="311.70" x2="384.0" y2="311.70" stroke="#111" stroke-width="1.2"/>
<text x="378.0" y="314.5" font-size="7.9" text-anchor="end" font-weight="normal" fill="#111" stroke="#111" stroke-width="0.22" >1000</text>
<line x1="380.8" y1="294.82" x2="384.0" y2="294.82" stroke="#111" stroke-width="1.2"/>
<text x="378.0" y="297.62" font-size="7.9" text-anchor="end" font-weight="normal" fill="#111" stroke="#111" stroke-width="0.22" >1500</text>
<line x1="380.8" y1="277.95" x2="384.0" y2="277.95" stroke="#111" stroke-width="1.2"/>
<text x="378.0" y="280.75" font-size="7.9" text-anchor="end" font-weight="normal" fill="#111" stroke="#111" stroke-width="0.22" >2000</text>
<line x1="380.8" y1="261.07" x2="384.0" y2="261.07" stroke="#111" stroke-width="1.2"/>
<text x="378.0" y="263.88" font-size="7.9" text-anchor="end" font-weight="normal" fill="#111" stroke="#111" stroke-width="0.22" >2500</text>
<line x1="380.8" y1="244.20" x2="384.0" y2="244.20" stroke="#111" stroke-width="1.2"/>
<text x="378.0" y="247.0" font-size="7.9" text-anchor="end" font-weight="normal" fill="#111" stroke="#111" stroke-width="0.22" >3000</text>
<circle cx="458.8" cy="289.7" r="1.1" fill="#222"/>
<g transform="translate(354.1,306.1) rotate(-90)"><text x="0" y="0" font-size="9.8" text-anchor="start" font-weight="normal" fill="#111" stroke="#111" stroke-width="0.22" textLength="55.7" lengthAdjust="spacingAndGlyphs" >Activity (CPM)</text></g>
<g transform="translate(397.6,319.2) rotate(-45)"><text x="0" y="3" font-size="8.0" text-anchor="end" font-weight="normal" fill="#111" stroke="#111" stroke-width="0.22" textLength="32.6" lengthAdjust="spacingAndGlyphs" >WT brain</text></g>
<g transform="translate(418.6,319.2) rotate(-45)"><text x="0" y="3" font-size="8.0" text-anchor="end" font-weight="normal" fill="#111" stroke="#111" stroke-width="0.22" textLength="14.2" lengthAdjust="spacingAndGlyphs" >Syn</text></g>
<g transform="translate(440.3,319.4) rotate(-45)"><text x="0" y="3" font-size="8.0" text-anchor="end" font-weight="normal" fill="#111" stroke="#111" stroke-width="0.22" textLength="13.8" lengthAdjust="spacingAndGlyphs" >Allo</text></g>
<g transform="translate(461.9,319.5) rotate(-45)"><text x="0" y="3" font-size="8.0" text-anchor="end" font-weight="normal" fill="#111" stroke="#111" stroke-width="0.22" textLength="41" lengthAdjust="spacingAndGlyphs" >Allo + Rosc</text></g>
<rect x="0" y="0" width="520" height="1.25" fill="#000"/><rect x="0" y="0" width="1.3" height="359" fill="#000"/><rect x="518.4" y="0" width="1.6" height="359" fill="#000"/><rect x="0" y="357.1" width="520" height="1.9" fill="#000"/>
</svg></body></html>
